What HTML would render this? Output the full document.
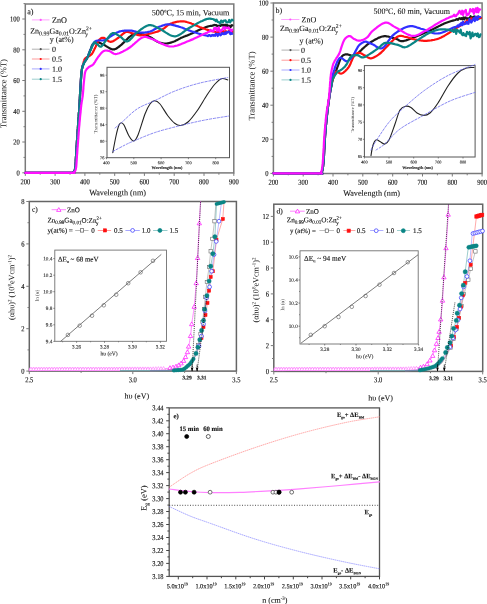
<!DOCTYPE html><html><head><meta charset="utf-8"><style>html,body{margin:0;padding:0;background:#fff;}svg{display:block;filter:blur(0.3px)}</style></head><body>
<svg width="487" height="604" viewBox="0 0 487 604" font-family="Liberation Serif">
<rect width="487" height="604" fill="#fff"/>
<rect x="25.3" y="4.0" width="208.5" height="168.9" fill="none" stroke="#7a7a7a" stroke-width="1.5"/>
<path d="M25.3,172.9 v3.0 M55.1,172.9 v3.0 M84.9,172.9 v3.0 M114.7,172.9 v3.0 M144.4,172.9 v3.0 M174.2,172.9 v3.0 M204.0,172.9 v3.0 M233.8,172.9 v3.0 " stroke="#7a7a7a" stroke-width="1.0"/>
<path d="M40.2,172.9 v1.8 M70.0,172.9 v1.8 M99.8,172.9 v1.8 M129.6,172.9 v1.8 M159.3,172.9 v1.8 M189.1,172.9 v1.8 M218.9,172.9 v1.8 " stroke="#7a7a7a" stroke-width="1.0"/>
<path d="M25.3,172.8 h-3.0 M25.3,142.0 h-3.0 M25.3,111.3 h-3.0 M25.3,80.5 h-3.0 M25.3,49.8 h-3.0 M25.3,19.0 h-3.0 " stroke="#7a7a7a" stroke-width="1.0"/>
<path d="M25.3,157.4 h-1.8 M25.3,126.7 h-1.8 M25.3,95.9 h-1.8 M25.3,65.1 h-1.8 M25.3,34.4 h-1.8 M25.3,3.6 h-1.8 " stroke="#7a7a7a" stroke-width="1.0"/>
<text x="25.3" y="184.2" font-size="7.60" text-anchor="middle" font-weight="normal" fill="#111" stroke="#111" stroke-width="0.13"  transform="translate(25.30 184.20) rotate(0.1) scale(0.860 1) translate(-25.30 -184.20)">200</text>
<text x="55.1" y="184.2" font-size="7.60" text-anchor="middle" font-weight="normal" fill="#111" stroke="#111" stroke-width="0.13"  transform="translate(55.09 184.20) rotate(0.1) scale(0.860 1) translate(-55.09 -184.20)">300</text>
<text x="84.9" y="184.2" font-size="7.60" text-anchor="middle" font-weight="normal" fill="#111" stroke="#111" stroke-width="0.13"  transform="translate(84.87 184.20) rotate(0.1) scale(0.860 1) translate(-84.87 -184.20)">400</text>
<text x="114.7" y="184.2" font-size="7.60" text-anchor="middle" font-weight="normal" fill="#111" stroke="#111" stroke-width="0.13"  transform="translate(114.66 184.20) rotate(0.1) scale(0.860 1) translate(-114.66 -184.20)">500</text>
<text x="144.4" y="184.2" font-size="7.60" text-anchor="middle" font-weight="normal" fill="#111" stroke="#111" stroke-width="0.13"  transform="translate(144.44 184.20) rotate(0.1) scale(0.860 1) translate(-144.44 -184.20)">600</text>
<text x="174.2" y="184.2" font-size="7.60" text-anchor="middle" font-weight="normal" fill="#111" stroke="#111" stroke-width="0.13"  transform="translate(174.23 184.20) rotate(0.1) scale(0.860 1) translate(-174.23 -184.20)">700</text>
<text x="204.0" y="184.2" font-size="7.60" text-anchor="middle" font-weight="normal" fill="#111" stroke="#111" stroke-width="0.13"  transform="translate(204.01 184.20) rotate(0.1) scale(0.860 1) translate(-204.01 -184.20)">800</text>
<text x="233.8" y="184.2" font-size="7.60" text-anchor="middle" font-weight="normal" fill="#111" stroke="#111" stroke-width="0.13"  transform="translate(233.80 184.20) rotate(0.1) scale(0.860 1) translate(-233.80 -184.20)">900</text>
<text x="19.8" y="175.4" font-size="7.60" text-anchor="end" font-weight="normal" fill="#111" stroke="#111" stroke-width="0.13"  transform="translate(19.80 175.40) rotate(0.1) scale(0.860 1) translate(-19.80 -175.40)">0</text>
<text x="19.8" y="144.6" font-size="7.60" text-anchor="end" font-weight="normal" fill="#111" stroke="#111" stroke-width="0.13"  transform="translate(19.80 144.64) rotate(0.1) scale(0.860 1) translate(-19.80 -144.64)">20</text>
<text x="19.8" y="113.9" font-size="7.60" text-anchor="end" font-weight="normal" fill="#111" stroke="#111" stroke-width="0.13"  transform="translate(19.80 113.88) rotate(0.1) scale(0.860 1) translate(-19.80 -113.88)">40</text>
<text x="19.8" y="83.1" font-size="7.60" text-anchor="end" font-weight="normal" fill="#111" stroke="#111" stroke-width="0.13"  transform="translate(19.80 83.12) rotate(0.1) scale(0.860 1) translate(-19.80 -83.12)">60</text>
<text x="19.8" y="52.4" font-size="7.60" text-anchor="end" font-weight="normal" fill="#111" stroke="#111" stroke-width="0.13"  transform="translate(19.80 52.36) rotate(0.1) scale(0.860 1) translate(-19.80 -52.36)">80</text>
<text x="19.8" y="21.6" font-size="7.60" text-anchor="end" font-weight="normal" fill="#111" stroke="#111" stroke-width="0.13"  transform="translate(19.80 21.60) rotate(0.1) scale(0.860 1) translate(-19.80 -21.60)">100</text>
<text x="117.6" y="195.3" font-size="8.20" text-anchor="middle" font-weight="normal" fill="#111" stroke="#111" stroke-width="0.08"  transform="rotate(0.1 117.6 195.3)">Wavelength (nm)</text>
<text transform="translate(6.2,93.6) rotate(-89.9)" font-size="8.6" text-anchor="middle" fill="#111">Transmittance (%T)</text>
<text x="27.2" y="14.2" font-size="8.20" text-anchor="start" font-weight="normal" fill="#111" stroke="#111" stroke-width="0.08"  transform="rotate(0.1 27.2 14.2)">a)</text>
<text x="151.8" y="15.2" font-size="8.15" text-anchor="start" font-weight="normal" fill="#111" stroke="#111" stroke-width="0.08"  transform="rotate(0.1 151.8 15.2)">500<tspan dy="-3" font-size="5">o</tspan><tspan dy="3">C, 15 min, Vacuum</tspan></text>
<path d="M25.3,172.8 L27.6,172.8 L30.6,172.8 L34.3,172.8 L38.4,172.8 L42.9,172.8 L47.5,172.8 L52.1,172.8 L56.5,172.8 L60.7,172.8 L64.5,172.8 L67.6,172.8 L70.0,172.8 L71.7,172.8 L72.9,172.8 L73.7,172.8 L74.1,172.8 L74.2,172.9 L74.1,172.9 L73.9,172.9 L73.5,172.8 L73.2,172.8 L72.9,172.7 L72.8,172.6 L72.9,172.4 L73.1,172.2 L73.3,172.1 L73.5,171.9 L73.8,171.7 L74.0,171.5 L74.2,171.3 L74.4,171.0 L74.5,170.6 L74.7,170.2 L74.9,169.6 L75.0,168.9 L75.2,168.0 L75.3,167.0 L75.5,165.9 L75.6,164.6 L75.7,163.2 L75.8,161.7 L75.8,160.2 L75.9,158.6 L76.0,156.9 L76.1,155.2 L76.2,153.5 L76.3,151.7 L76.4,150.0 L76.5,148.2 L76.6,146.4 L76.8,144.5 L76.9,142.5 L77.0,140.5 L77.2,138.5 L77.3,136.5 L77.5,134.4 L77.6,132.4 L77.7,130.4 L77.9,128.4 L78.0,126.5 L78.1,124.6 L78.3,122.7 L78.4,120.7 L78.5,118.8 L78.7,116.9 L78.8,115.0 L78.9,113.1 L79.1,111.3 L79.2,109.5 L79.3,107.8 L79.4,106.2 L79.5,104.6 L79.6,103.1 L79.7,101.8 L79.7,100.5 L79.8,99.3 L79.9,98.2 L79.9,97.1 L80.0,96.0 L80.0,94.9 L80.1,93.8 L80.1,92.6 L80.2,91.3 L80.3,90.0 L80.4,88.6 L80.5,87.0 L80.6,85.4 L80.7,83.7 L80.8,82.0 L80.9,80.3 L81.0,78.6 L81.1,77.0 L81.2,75.4 L81.3,73.9 L81.5,72.6 L81.6,71.4 L81.8,70.4 L81.9,69.4 L82.1,68.6 L82.2,67.8 L82.4,67.2 L82.6,66.5 L82.8,66.0 L83.0,65.4 L83.2,64.9 L83.4,64.4 L83.7,63.9 L83.9,63.3 L84.1,62.7 L84.4,62.2 L84.7,61.8 L85.0,61.3 L85.3,60.9 L85.6,60.5 L85.9,60.0 L86.2,59.6 L86.5,59.1 L86.8,58.6 L87.1,58.1 L87.4,57.5 L87.7,56.8 L88.0,56.1 L88.3,55.4 L88.6,54.6 L88.9,53.7 L89.2,52.9 L89.5,52.1 L89.8,51.3 L90.1,50.5 L90.4,49.8 L90.7,49.1 L90.9,48.5 L91.1,48.0 L91.3,47.5 L91.5,47.0 L91.6,46.6 L91.7,46.2 L91.9,45.8 L92.0,45.5 L92.2,45.2 L92.3,44.9 L92.5,44.6 L92.7,44.4 L93.0,44.1 L93.3,43.9 L93.6,43.6 L94.0,43.4 L94.4,43.2 L94.8,43.0 L95.2,42.8 L95.6,42.7 L96.0,42.6 L96.5,42.5 L96.9,42.4 L97.4,42.4 L97.8,42.4 L98.2,42.4 L98.7,42.5 L99.1,42.6 L99.5,42.8 L100.0,43.0 L100.4,43.1 L100.9,43.4 L101.4,43.6 L101.9,43.9 L102.4,44.1 L103.0,44.4 L103.6,44.7 L104.3,45.0 L105.0,45.4 L105.7,45.9 L106.5,46.4 L107.3,46.9 L108.2,47.4 L109.0,47.9 L109.8,48.4 L110.6,48.7 L111.4,49.1 L112.2,49.3 L112.9,49.4 L113.6,49.4 L114.1,49.4 L114.7,49.3 L115.2,49.1 L115.7,48.9 L116.3,48.6 L116.8,48.3 L117.3,47.9 L117.9,47.5 L118.5,47.0 L119.2,46.5 L120.0,45.9 L120.9,45.2 L121.8,44.4 L122.8,43.4 L123.9,42.4 L125.0,41.3 L126.2,40.1 L127.3,39.0 L128.4,37.9 L129.5,36.9 L130.6,36.1 L131.6,35.3 L132.5,34.7 L133.3,34.3 L134.1,33.9 L134.8,33.7 L135.5,33.5 L136.2,33.4 L136.9,33.4 L137.5,33.4 L138.1,33.5 L138.8,33.6 L139.4,33.7 L140.1,33.8 L140.8,33.9 L141.5,34.0 L142.3,34.2 L143.1,34.4 L143.8,34.6 L144.6,34.8 L145.4,35.1 L146.2,35.4 L147.0,35.7 L147.8,36.0 L148.5,36.3 L149.3,36.7 L150.0,37.0 L150.7,37.4 L151.4,37.8 L152.1,38.2 L152.8,38.7 L153.4,39.1 L154.1,39.6 L154.7,40.1 L155.4,40.5 L156.0,41.0 L156.7,41.3 L157.3,41.7 L158.0,42.0 L158.7,42.3 L159.3,42.5 L160.0,42.7 L160.7,42.9 L161.3,43.1 L162.0,43.2 L162.7,43.3 L163.3,43.4 L164.0,43.5 L164.7,43.5 L165.3,43.5 L166.0,43.5 L166.7,43.5 L167.3,43.4 L168.0,43.3 L168.7,43.2 L169.3,43.0 L170.0,42.8 L170.7,42.7 L171.3,42.4 L172.0,42.2 L172.7,42.0 L173.3,41.7 L174.0,41.5 L174.7,41.2 L175.3,40.9 L176.0,40.6 L176.7,40.3 L177.3,39.9 L178.0,39.6 L178.7,39.2 L179.3,38.8 L180.0,38.5 L180.7,38.1 L181.3,37.8 L182.0,37.5 L182.6,37.2 L183.2,37.0 L183.8,36.7 L184.3,36.5 L184.9,36.3 L185.4,36.1 L186.0,35.9 L186.6,35.7 L187.3,35.4 L188.1,35.1 L189.0,34.7 L190.0,34.3 L191.1,33.8 L192.4,33.2 L193.8,32.5 L195.3,31.8 L196.9,31.1 L198.5,30.3 L200.1,29.6 L201.7,28.8 L203.3,28.2 L204.8,27.6 L206.2,27.0 L207.5,26.6 L208.7,26.3 L209.9,26.0 L210.8,25.8 L211.7,25.8 L212.6,25.7 L213.5,25.2 L214.4,24.9 L215.3,25.3 L216.2,25.0 L217.1,26.1 L218.0,25.9 L218.9,25.7 L219.8,25.6 L220.7,25.9 L221.6,24.7 L222.5,25.4 L223.4,24.8 L224.3,26.7 L225.2,24.7 L226.1,26.6 L227.0,24.9 L227.9,26.4 L228.8,25.7 L229.7,25.9 L230.6,27.1 L231.5,25.2 L232.4,25.4" fill="none" stroke="#1a1a1a" stroke-width="2.2" stroke-linejoin="round" stroke-linecap="round"/>
<path d="M25.3,172.8 L27.6,172.8 L30.6,172.8 L34.3,172.8 L38.4,172.8 L42.9,172.8 L47.5,172.8 L52.1,172.8 L56.5,172.8 L60.7,172.8 L64.5,172.8 L67.6,172.8 L70.0,172.8 L71.7,172.8 L72.9,172.8 L73.7,172.8 L74.1,172.8 L74.2,172.9 L74.1,172.9 L73.9,172.9 L73.5,172.8 L73.2,172.8 L72.9,172.7 L72.8,172.6 L72.9,172.4 L73.1,172.2 L73.3,172.1 L73.5,171.9 L73.8,171.7 L74.0,171.5 L74.2,171.3 L74.4,171.0 L74.5,170.6 L74.7,170.2 L74.9,169.6 L75.0,168.9 L75.2,168.0 L75.3,167.0 L75.5,165.9 L75.6,164.6 L75.7,163.2 L75.8,161.7 L75.8,160.2 L75.9,158.6 L76.0,156.9 L76.1,155.2 L76.2,153.5 L76.3,151.7 L76.4,150.0 L76.5,148.2 L76.6,146.4 L76.8,144.5 L76.9,142.5 L77.0,140.5 L77.2,138.5 L77.3,136.5 L77.5,134.4 L77.6,132.4 L77.7,130.4 L77.9,128.4 L78.0,126.5 L78.1,124.6 L78.3,122.7 L78.4,120.7 L78.5,118.8 L78.7,116.9 L78.8,115.0 L78.9,113.1 L79.1,111.3 L79.2,109.5 L79.3,107.8 L79.4,106.2 L79.5,104.6 L79.6,103.1 L79.7,101.8 L79.7,100.5 L79.8,99.3 L79.9,98.2 L79.9,97.1 L80.0,96.0 L80.0,94.9 L80.1,93.8 L80.1,92.6 L80.2,91.3 L80.3,90.0 L80.4,88.6 L80.5,87.0 L80.6,85.4 L80.7,83.7 L80.8,82.0 L80.9,80.3 L81.0,78.6 L81.1,77.0 L81.2,75.4 L81.3,74.0 L81.5,72.6 L81.6,71.4 L81.7,70.3 L81.9,69.4 L82.0,68.5 L82.2,67.7 L82.4,67.0 L82.5,66.3 L82.7,65.7 L82.9,65.1 L83.0,64.6 L83.2,64.1 L83.4,63.5 L83.5,63.0 L83.6,62.5 L83.7,62.0 L83.8,61.6 L83.9,61.2 L84.0,60.8 L84.1,60.5 L84.2,60.1 L84.3,59.8 L84.5,59.5 L84.6,59.2 L84.9,58.9 L85.1,58.6 L85.4,58.3 L85.8,58.0 L86.1,57.7 L86.6,57.4 L87.0,57.2 L87.5,56.9 L88.0,56.7 L88.4,56.4 L88.9,56.2 L89.3,56.0 L89.7,55.7 L90.0,55.5 L90.3,55.3 L90.5,55.1 L90.8,54.9 L91.0,54.8 L91.2,54.6 L91.4,54.4 L91.5,54.3 L91.7,54.1 L91.9,53.9 L92.1,53.6 L92.3,53.3 L92.5,53.0 L92.7,52.6 L93.0,52.2 L93.2,51.8 L93.4,51.3 L93.7,50.8 L93.9,50.3 L94.2,49.7 L94.4,49.2 L94.7,48.6 L95.0,48.1 L95.2,47.5 L95.5,47.0 L95.8,46.4 L96.0,45.8 L96.3,45.2 L96.6,44.6 L96.9,44.0 L97.1,43.3 L97.4,42.7 L97.7,42.1 L98.0,41.5 L98.3,41.0 L98.7,40.5 L99.0,40.1 L99.3,39.7 L99.7,39.4 L100.0,39.1 L100.4,38.8 L100.7,38.5 L101.1,38.3 L101.5,38.1 L101.8,37.9 L102.3,37.8 L102.7,37.8 L103.1,37.8 L103.6,37.8 L104.1,37.9 L104.6,38.2 L105.2,38.5 L105.7,39.0 L106.3,39.4 L106.9,39.9 L107.5,40.4 L108.1,40.8 L108.8,41.2 L109.4,41.5 L110.0,41.7 L110.6,41.8 L111.2,41.8 L111.8,41.6 L112.4,41.4 L113.0,41.2 L113.6,40.9 L114.2,40.5 L114.9,40.1 L115.5,39.7 L116.1,39.3 L116.7,38.9 L117.4,38.4 L118.0,38.0 L118.6,37.6 L119.3,37.0 L120.0,36.5 L120.7,35.9 L121.3,35.3 L122.0,34.7 L122.7,34.1 L123.4,33.5 L124.1,33.0 L124.7,32.6 L125.4,32.2 L126.0,32.0 L126.6,31.9 L127.2,31.8 L127.8,31.8 L128.3,31.9 L128.9,32.1 L129.4,32.3 L130.0,32.5 L130.6,32.7 L131.1,32.9 L131.7,33.2 L132.3,33.3 L133.0,33.5 L133.7,33.7 L134.3,33.8 L134.9,34.1 L135.5,34.3 L136.2,34.5 L136.8,34.7 L137.5,34.9 L138.3,35.1 L139.1,35.2 L140.0,35.3 L140.9,35.3 L142.0,35.2 L143.2,35.0 L144.6,34.8 L146.1,34.5 L147.6,34.2 L149.3,33.8 L150.9,33.4 L152.6,33.0 L154.3,32.5 L155.9,32.0 L157.4,31.6 L158.8,31.1 L160.0,30.6 L161.1,30.1 L162.1,29.6 L163.0,29.0 L163.9,28.4 L164.7,27.8 L165.4,27.2 L166.2,26.6 L166.9,26.0 L167.6,25.4 L168.4,24.9 L169.2,24.4 L170.0,24.0 L170.9,23.6 L171.8,23.3 L172.7,22.9 L173.7,22.6 L174.6,22.4 L175.6,22.1 L176.5,21.9 L177.4,21.7 L178.4,21.6 L179.3,21.5 L180.2,21.4 L181.0,21.3 L181.8,21.3 L182.6,21.3 L183.3,21.3 L184.0,21.4 L184.7,21.5 L185.4,21.7 L186.1,21.8 L186.8,22.0 L187.6,22.2 L188.3,22.5 L189.1,22.7 L190.0,23.0 L190.9,23.3 L191.8,23.7 L192.8,24.0 L193.8,24.5 L194.8,24.9 L195.8,25.4 L196.9,25.8 L197.9,26.3 L199.0,26.7 L200.1,27.2 L201.2,27.6 L202.3,28.0 L203.4,28.4 L204.6,28.8 L205.7,29.2 L206.9,29.6 L208.1,30.0 L209.3,30.4 L210.5,30.7 L211.7,31.1 L212.9,31.4 L214.2,31.6 L215.1,31.8 L216.0,32.0 L216.9,32.1 L217.8,32.3 L218.7,31.8 L219.6,31.8 L220.5,31.6 L221.4,31.6 L222.3,32.4 L223.2,31.2 L224.1,32.0 L225.0,31.2 L225.9,31.3 L226.8,31.5 L227.7,32.2 L228.6,31.7 L229.5,30.4 L230.4,30.8 L231.3,30.5 L232.2,31.8" fill="none" stroke="#ff1010" stroke-width="2.2" stroke-linejoin="round" stroke-linecap="round"/>
<path d="M25.3,172.8 L27.6,172.8 L30.6,172.8 L34.3,172.8 L38.4,172.8 L42.9,172.8 L47.5,172.8 L52.1,172.8 L56.5,172.8 L60.7,172.8 L64.5,172.8 L67.6,172.8 L70.0,172.8 L71.7,172.8 L72.9,172.8 L73.7,172.8 L74.1,172.8 L74.2,172.9 L74.1,172.9 L73.9,172.9 L73.5,172.8 L73.2,172.8 L72.9,172.7 L72.8,172.6 L72.9,172.4 L73.1,172.2 L73.3,172.1 L73.5,171.9 L73.8,171.7 L74.0,171.5 L74.2,171.3 L74.4,171.0 L74.5,170.6 L74.7,170.2 L74.9,169.6 L75.0,168.9 L75.2,168.0 L75.3,167.0 L75.5,165.9 L75.6,164.6 L75.7,163.2 L75.8,161.7 L75.8,160.2 L75.9,158.6 L76.0,156.9 L76.1,155.2 L76.2,153.5 L76.3,151.7 L76.4,150.0 L76.5,148.2 L76.6,146.4 L76.8,144.5 L76.9,142.5 L77.0,140.5 L77.2,138.5 L77.3,136.5 L77.5,134.4 L77.6,132.4 L77.7,130.4 L77.9,128.4 L78.0,126.5 L78.1,124.6 L78.3,122.7 L78.4,120.7 L78.5,118.8 L78.7,116.9 L78.8,115.0 L78.9,113.1 L79.1,111.3 L79.2,109.5 L79.3,107.8 L79.4,106.2 L79.5,104.6 L79.6,103.1 L79.7,101.8 L79.7,100.5 L79.8,99.3 L79.9,98.2 L79.9,97.1 L80.0,96.0 L80.0,94.9 L80.1,93.8 L80.1,92.6 L80.2,91.3 L80.3,90.0 L80.4,88.6 L80.5,87.0 L80.6,85.4 L80.7,83.7 L80.8,82.0 L80.9,80.3 L81.0,78.6 L81.1,77.0 L81.2,75.4 L81.3,73.9 L81.5,72.6 L81.6,71.4 L81.8,70.4 L81.9,69.4 L82.1,68.6 L82.2,67.8 L82.4,67.2 L82.6,66.5 L82.8,66.0 L83.0,65.4 L83.2,64.9 L83.4,64.4 L83.7,63.9 L83.9,63.3 L84.1,62.7 L84.4,62.2 L84.7,61.8 L85.0,61.3 L85.3,60.9 L85.6,60.4 L85.9,60.0 L86.2,59.5 L86.5,59.1 L86.8,58.6 L87.1,58.1 L87.4,57.5 L87.7,56.9 L88.0,56.2 L88.2,55.5 L88.5,54.8 L88.8,54.1 L89.1,53.4 L89.4,52.6 L89.7,51.9 L89.9,51.1 L90.3,50.4 L90.6,49.7 L90.9,49.0 L91.2,48.3 L91.5,47.6 L91.9,46.8 L92.2,46.1 L92.5,45.4 L92.8,44.6 L93.2,43.9 L93.6,43.3 L94.0,42.7 L94.4,42.1 L94.9,41.6 L95.5,41.2 L96.1,40.9 L96.8,40.7 L97.5,40.5 L98.3,40.5 L99.1,40.4 L100.0,40.5 L100.8,40.5 L101.7,40.5 L102.5,40.5 L103.3,40.4 L104.1,40.3 L104.8,40.1 L105.5,39.8 L106.1,39.5 L106.7,39.2 L107.3,38.8 L107.9,38.4 L108.5,38.0 L109.0,37.6 L109.6,37.1 L110.2,36.7 L110.8,36.3 L111.4,35.9 L112.0,35.5 L112.6,35.1 L113.3,34.7 L113.9,34.4 L114.5,34.0 L115.1,33.6 L115.8,33.2 L116.4,32.8 L117.1,32.5 L117.8,32.2 L118.5,31.9 L119.2,31.6 L120.0,31.4 L120.8,31.2 L121.7,31.0 L122.6,30.9 L123.5,30.8 L124.4,30.7 L125.4,30.6 L126.3,30.6 L127.3,30.5 L128.2,30.5 L129.2,30.5 L130.0,30.6 L130.9,30.6 L131.7,30.7 L132.5,30.8 L133.3,31.0 L134.0,31.2 L134.8,31.4 L135.5,31.6 L136.2,31.8 L137.0,32.1 L137.7,32.3 L138.5,32.4 L139.2,32.5 L140.0,32.6 L140.8,32.6 L141.6,32.6 L142.4,32.6 L143.3,32.6 L144.1,32.6 L144.9,32.5 L145.8,32.4 L146.6,32.3 L147.5,32.1 L148.3,31.9 L149.2,31.7 L150.0,31.5 L150.8,31.2 L151.7,30.9 L152.5,30.5 L153.4,30.0 L154.2,29.5 L155.1,29.1 L155.9,28.6 L156.8,28.1 L157.6,27.6 L158.4,27.2 L159.2,26.8 L160.0,26.5 L160.8,26.2 L161.5,25.9 L162.2,25.7 L162.9,25.4 L163.6,25.2 L164.3,25.0 L165.0,24.8 L165.7,24.6 L166.4,24.5 L167.1,24.4 L167.9,24.4 L168.7,24.4 L169.6,24.4 L170.4,24.5 L171.4,24.7 L172.3,24.9 L173.3,25.1 L174.3,25.3 L175.3,25.6 L176.2,25.9 L177.2,26.2 L178.2,26.4 L179.1,26.7 L180.0,27.0 L180.9,27.3 L181.7,27.5 L182.5,27.8 L183.2,28.1 L184.0,28.4 L184.7,28.7 L185.5,29.0 L186.3,29.4 L187.2,29.7 L188.0,30.0 L189.0,30.4 L190.0,30.7 L191.1,31.1 L192.3,31.5 L193.6,31.9 L194.9,32.4 L196.2,32.8 L197.6,33.3 L199.0,33.7 L200.4,34.1 L201.7,34.5 L203.0,34.8 L204.2,35.1 L205.1,35.2 L206.0,35.5 L206.9,35.6 L207.8,36.1 L208.7,35.2 L209.6,35.1 L210.5,36.1 L211.4,35.9 L212.3,34.8 L213.2,35.8 L214.1,34.8 L215.0,35.9 L215.9,33.7 L216.8,33.9 L217.7,36.0 L218.6,34.1 L219.5,33.7 L220.4,35.3 L221.3,34.6 L222.2,32.9 L223.1,34.0 L224.0,34.2 L224.9,32.5 L225.8,33.9 L226.7,32.1 L227.6,32.6 L228.5,31.6 L229.4,31.9 L230.3,34.2 L231.2,32.2 L232.1,33.9" fill="none" stroke="#3030ff" stroke-width="2.2" stroke-linejoin="round" stroke-linecap="round"/>
<path d="M25.3,172.8 L27.6,172.8 L30.6,172.8 L34.3,172.8 L38.4,172.8 L42.9,172.8 L47.5,172.8 L52.1,172.8 L56.5,172.8 L60.7,172.8 L64.5,172.8 L67.6,172.8 L70.0,172.8 L71.7,172.8 L72.9,172.8 L73.7,172.8 L74.1,172.8 L74.2,172.9 L74.1,172.9 L73.9,172.9 L73.5,172.8 L73.2,172.8 L72.9,172.7 L72.8,172.6 L72.9,172.4 L73.1,172.2 L73.3,172.1 L73.5,171.9 L73.8,171.7 L74.0,171.5 L74.2,171.3 L74.4,171.0 L74.5,170.6 L74.7,170.2 L74.9,169.6 L75.0,168.9 L75.2,168.0 L75.3,167.0 L75.5,165.9 L75.6,164.6 L75.7,163.2 L75.8,161.7 L75.8,160.2 L75.9,158.6 L76.0,156.9 L76.1,155.2 L76.2,153.5 L76.3,151.7 L76.4,150.0 L76.5,148.2 L76.6,146.4 L76.8,144.5 L76.9,142.5 L77.0,140.5 L77.2,138.5 L77.3,136.5 L77.5,134.4 L77.6,132.4 L77.7,130.4 L77.9,128.4 L78.0,126.5 L78.1,124.6 L78.3,122.7 L78.4,120.7 L78.5,118.8 L78.7,116.9 L78.8,115.0 L78.9,113.1 L79.1,111.3 L79.2,109.5 L79.3,107.8 L79.4,106.2 L79.5,104.6 L79.6,103.1 L79.7,101.8 L79.7,100.5 L79.8,99.3 L79.9,98.2 L79.9,97.1 L80.0,96.0 L80.0,94.9 L80.1,93.8 L80.1,92.6 L80.2,91.3 L80.3,90.0 L80.4,88.6 L80.5,87.0 L80.6,85.4 L80.7,83.7 L80.8,82.0 L80.9,80.3 L81.0,78.6 L81.1,77.0 L81.2,75.4 L81.3,73.9 L81.5,72.6 L81.6,71.4 L81.8,70.4 L81.9,69.4 L82.1,68.6 L82.2,67.8 L82.4,67.2 L82.6,66.5 L82.8,66.0 L83.0,65.4 L83.2,64.9 L83.4,64.4 L83.7,63.9 L83.9,63.3 L84.1,62.7 L84.4,62.2 L84.7,61.7 L85.0,61.3 L85.3,60.8 L85.6,60.4 L85.9,60.0 L86.2,59.5 L86.5,59.1 L86.8,58.6 L87.1,58.1 L87.4,57.5 L87.7,56.9 L88.0,56.3 L88.3,55.6 L88.6,54.9 L88.9,54.2 L89.2,53.5 L89.4,52.8 L89.7,52.1 L90.0,51.4 L90.3,50.7 L90.6,50.0 L90.9,49.4 L91.2,48.7 L91.5,48.1 L91.8,47.4 L92.1,46.6 L92.4,45.9 L92.7,45.3 L93.0,44.6 L93.3,44.0 L93.6,43.5 L93.8,43.0 L94.1,42.7 L94.4,42.4 L94.7,42.3 L94.9,42.2 L95.2,42.3 L95.4,42.4 L95.7,42.6 L95.9,42.9 L96.2,43.2 L96.4,43.5 L96.7,43.8 L96.9,44.1 L97.2,44.3 L97.5,44.5 L97.8,44.7 L98.1,44.9 L98.4,45.2 L98.6,45.5 L98.9,45.8 L99.2,46.1 L99.5,46.3 L99.9,46.5 L100.2,46.7 L100.5,46.7 L100.9,46.7 L101.3,46.5 L101.7,46.2 L102.1,45.8 L102.6,45.3 L103.1,44.6 L103.5,44.0 L104.0,43.2 L104.5,42.5 L105.0,41.7 L105.5,41.0 L106.0,40.3 L106.5,39.6 L107.0,39.0 L107.5,38.4 L108.0,37.8 L108.4,37.2 L108.9,36.6 L109.4,36.0 L109.9,35.4 L110.3,34.8 L110.8,34.3 L111.3,33.9 L111.8,33.5 L112.4,33.3 L112.9,33.1 L113.4,33.1 L114.0,33.1 L114.6,33.3 L115.2,33.5 L115.7,33.8 L116.3,34.1 L116.9,34.5 L117.6,34.9 L118.2,35.3 L118.8,35.7 L119.4,36.1 L120.0,36.5 L120.6,36.9 L121.2,37.4 L121.8,37.9 L122.4,38.5 L123.0,39.1 L123.7,39.7 L124.3,40.2 L124.9,40.7 L125.6,41.0 L126.2,41.3 L126.9,41.4 L127.6,41.3 L128.3,41.0 L129.0,40.6 L129.8,40.0 L130.5,39.3 L131.3,38.5 L132.0,37.7 L132.8,36.7 L133.6,35.8 L134.4,34.9 L135.3,34.0 L136.1,33.2 L137.0,32.5 L137.9,31.8 L138.9,31.1 L139.8,30.3 L140.8,29.5 L141.9,28.8 L142.9,28.1 L143.9,27.4 L145.0,26.8 L146.0,26.2 L147.0,25.8 L148.0,25.4 L149.0,25.2 L149.9,25.1 L150.8,25.2 L151.7,25.3 L152.6,25.5 L153.5,25.8 L154.3,26.2 L155.2,26.6 L156.1,27.1 L157.0,27.5 L158.0,28.0 L158.9,28.5 L160.0,29.0 L161.1,29.5 L162.3,30.2 L163.4,31.0 L164.7,31.8 L165.9,32.6 L167.2,33.4 L168.5,34.2 L169.8,34.9 L171.1,35.5 L172.4,36.0 L173.6,36.2 L174.9,36.3 L176.1,36.1 L177.4,35.8 L178.6,35.2 L179.8,34.6 L181.0,33.8 L182.3,32.9 L183.5,32.0 L184.8,31.0 L186.0,30.1 L187.3,29.1 L188.6,28.3 L190.0,27.5 L191.4,26.7 L192.9,25.9 L194.4,25.1 L195.9,24.2 L197.5,23.3 L199.1,22.4 L200.6,21.6 L202.2,20.9 L203.7,20.2 L205.1,19.6 L206.5,19.1 L207.8,18.8 L209.0,18.6 L210.1,18.6 L211.2,18.8 L212.1,19.0 L213.0,19.0 L213.9,19.8 L214.8,19.5 L215.7,21.1 L216.6,19.7 L217.5,21.9 L218.4,21.8 L219.3,22.6 L220.2,23.3 L221.1,20.6 L222.0,21.0 L222.9,22.3 L223.8,20.7 L224.7,20.6 L225.6,20.4 L226.5,22.5 L227.4,22.5 L228.3,22.1 L229.2,19.9 L230.1,22.4 L231.0,20.8 L231.9,19.6 L232.8,20.4" fill="none" stroke="#0a8585" stroke-width="2.2" stroke-linejoin="round" stroke-linecap="round"/>
<path d="M25.3,172.8 L27.6,172.8 L30.6,172.8 L34.3,172.8 L38.4,172.8 L42.8,172.8 L47.4,172.8 L52.0,172.8 L56.5,172.8 L60.7,172.8 L64.4,172.8 L67.6,172.8 L70.0,172.8 L71.7,172.8 L73.0,172.8 L73.8,172.8 L74.3,172.8 L74.4,172.9 L74.4,172.9 L74.2,172.9 L73.9,172.8 L73.7,172.8 L73.5,172.7 L73.4,172.6 L73.5,172.4 L73.7,172.2 L74.0,172.1 L74.2,171.9 L74.4,171.7 L74.7,171.5 L74.9,171.3 L75.1,171.0 L75.3,170.6 L75.5,170.2 L75.7,169.6 L75.8,168.9 L76.0,168.0 L76.2,167.0 L76.3,165.9 L76.4,164.6 L76.5,163.2 L76.6,161.7 L76.7,160.2 L76.8,158.6 L76.9,156.9 L77.0,155.2 L77.2,153.5 L77.3,151.7 L77.4,150.0 L77.5,148.2 L77.7,146.4 L77.8,144.4 L78.0,142.5 L78.1,140.4 L78.3,138.4 L78.4,136.4 L78.6,134.3 L78.7,132.3 L78.9,130.3 L79.0,128.4 L79.2,126.5 L79.4,124.7 L79.5,122.8 L79.7,120.9 L79.9,119.1 L80.0,117.3 L80.2,115.5 L80.4,113.7 L80.6,112.0 L80.7,110.4 L80.9,108.8 L81.0,107.4 L81.2,106.0 L81.3,104.8 L81.5,103.6 L81.6,102.6 L81.8,101.7 L81.9,100.8 L82.1,100.0 L82.2,99.2 L82.3,98.5 L82.4,97.7 L82.6,96.8 L82.7,96.0 L82.8,95.0 L82.9,94.0 L83.0,92.9 L83.1,91.8 L83.2,90.7 L83.3,89.6 L83.4,88.5 L83.4,87.3 L83.5,86.2 L83.6,85.1 L83.7,84.0 L83.8,83.0 L83.9,82.0 L84.0,81.0 L84.1,80.1 L84.2,79.1 L84.3,78.2 L84.4,77.3 L84.5,76.4 L84.6,75.5 L84.7,74.7 L84.8,73.9 L85.0,73.1 L85.1,72.4 L85.3,71.8 L85.5,71.2 L85.7,70.7 L86.0,70.2 L86.2,69.8 L86.5,69.4 L86.8,69.1 L87.0,68.8 L87.3,68.5 L87.6,68.2 L88.0,67.9 L88.3,67.6 L88.6,67.3 L88.9,67.0 L89.3,66.8 L89.7,66.6 L90.0,66.4 L90.4,66.2 L90.8,66.0 L91.2,65.8 L91.6,65.6 L92.0,65.4 L92.4,65.1 L92.8,64.8 L93.2,64.4 L93.6,64.0 L94.0,63.5 L94.3,62.9 L94.7,62.4 L95.1,61.8 L95.4,61.2 L95.8,60.5 L96.2,59.9 L96.6,59.3 L97.0,58.7 L97.4,58.1 L97.8,57.5 L98.2,56.9 L98.7,56.3 L99.2,55.7 L99.6,55.1 L100.1,54.5 L100.6,53.9 L101.1,53.3 L101.6,52.7 L102.1,52.2 L102.6,51.8 L103.1,51.4 L103.6,51.1 L104.1,50.9 L104.6,50.7 L105.0,50.6 L105.5,50.5 L106.0,50.5 L106.4,50.5 L106.9,50.6 L107.4,50.6 L107.9,50.7 L108.4,50.9 L108.9,51.0 L109.4,51.1 L109.9,51.3 L110.4,51.5 L110.9,51.8 L111.4,52.2 L111.9,52.6 L112.5,52.9 L113.0,53.3 L113.6,53.6 L114.2,53.8 L114.9,54.0 L115.6,54.1 L116.4,54.0 L117.3,53.8 L118.2,53.5 L119.2,53.2 L120.3,52.8 L121.3,52.3 L122.5,51.7 L123.6,51.1 L124.8,50.5 L125.9,49.9 L127.1,49.2 L128.2,48.5 L129.3,47.8 L130.4,47.0 L131.5,46.2 L132.6,45.2 L133.8,44.2 L134.9,43.2 L136.1,42.2 L137.2,41.2 L138.3,40.2 L139.4,39.3 L140.4,38.6 L141.4,38.0 L142.4,37.5 L143.3,37.2 L144.1,37.0 L144.8,36.9 L145.5,36.9 L146.2,37.0 L146.8,37.1 L147.5,37.4 L148.2,37.6 L149.0,37.9 L149.9,38.3 L150.9,38.6 L152.0,39.0 L153.2,39.5 L154.6,40.1 L156.0,40.8 L157.6,41.6 L159.2,42.4 L160.8,43.2 L162.5,44.0 L164.2,44.8 L165.9,45.4 L167.5,46.0 L169.2,46.3 L170.8,46.5 L172.4,46.5 L174.0,46.3 L175.7,45.9 L177.4,45.5 L179.1,44.9 L180.7,44.3 L182.4,43.6 L184.0,42.9 L185.6,42.2 L187.1,41.6 L188.6,41.0 L190.0,40.4 L191.3,39.9 L192.6,39.4 L193.8,38.8 L194.9,38.3 L196.0,37.8 L197.1,37.3 L198.1,36.7 L199.2,36.2 L200.2,35.7 L201.2,35.2 L202.2,34.8 L203.3,34.3 L204.3,33.8 L205.2,33.4 L206.1,33.0 L207.0,33.1 L207.9,32.1 L208.8,31.8 L209.7,31.6 L210.6,30.0 L211.5,30.7 L212.4,30.9 L213.3,31.4 L214.2,28.1 L215.1,28.8 L216.0,27.8 L216.9,30.8 L217.8,30.2 L218.7,27.3 L219.6,31.4 L220.5,31.3 L221.4,29.9 L222.3,29.8 L223.2,27.8 L224.1,27.1 L225.0,29.4 L225.9,27.4 L226.8,28.0 L227.7,28.3 L228.6,27.4 L229.5,29.3 L230.4,29.3 L231.3,31.1 L232.2,29.7" fill="none" stroke="#ff10ff" stroke-width="2.2" stroke-linejoin="round" stroke-linecap="round"/>
<path d="M31.9,19.9H49.5" stroke="#ff99ff" stroke-width="0.9"/>
<circle cx="40.7" cy="19.9" r="1.1" fill="#ff55ff"/>
<text x="51.9" y="22.7" font-size="8.20" text-anchor="start" font-weight="normal" fill="#111" stroke="#111" stroke-width="0.08"  transform="rotate(0.1 51.9 22.7)">ZnO</text>
<text x="30.2" y="33.6" font-size="8.00" text-anchor="start" font-weight="normal" fill="#111" stroke="#111" stroke-width="0.08"  transform="rotate(0.1 30.2 33.6)">Zn<tspan font-size="5.9" dy="1.8">0.99</tspan><tspan dy="-1.8">Ga</tspan><tspan font-size="5.9" dy="1.8">0.01</tspan><tspan dy="-1.8">O:Zn</tspan><tspan font-size="5.6" dy="-3.4">2+</tspan><tspan font-size="5.6" dx="-6.5" dy="5.8">y</tspan></text>
<text x="49.8" y="41.9" font-size="8.00" text-anchor="start" font-weight="normal" fill="#111" stroke="#111" stroke-width="0.08"  transform="rotate(0.1 49.8 41.9)">y (at%)</text>
<path d="M31.9,49.2H49.5" stroke="#a8a8a8" stroke-width="0.9"/>
<circle cx="40.7" cy="49.2" r="1.1" fill="#555"/>
<text x="51.9" y="52.0" font-size="8.00" text-anchor="start" font-weight="normal" fill="#111" stroke="#111" stroke-width="0.08"  transform="rotate(0.1 51.9 52.0)">0</text>
<path d="M31.9,59.0H49.5" stroke="#ff9090" stroke-width="0.9"/>
<circle cx="40.7" cy="59.0" r="1.1" fill="#ff1010"/>
<text x="51.9" y="61.8" font-size="8.00" text-anchor="start" font-weight="normal" fill="#111" stroke="#111" stroke-width="0.08"  transform="rotate(0.1 51.9 61.8)">0.5</text>
<path d="M31.9,68.9H49.5" stroke="#a0a0ff" stroke-width="0.9"/>
<circle cx="40.7" cy="68.9" r="1.1" fill="#3030ff"/>
<text x="51.9" y="71.7" font-size="8.00" text-anchor="start" font-weight="normal" fill="#111" stroke="#111" stroke-width="0.08"  transform="rotate(0.1 51.9 71.7)">1.0</text>
<path d="M31.9,79.2H49.5" stroke="#90c8c8" stroke-width="0.9"/>
<circle cx="40.7" cy="79.2" r="1.1" fill="#0a8585"/>
<text x="51.9" y="82.0" font-size="8.00" text-anchor="start" font-weight="normal" fill="#111" stroke="#111" stroke-width="0.08"  transform="rotate(0.1 51.9 82.0)">1.5</text>
<rect x="107.0" y="67.3" width="122.5" height="90.4" fill="#fff" stroke="#555" stroke-width="1"/>
<path d="M106.5,157.7 v1.5 M133.8,157.7 v1.5 M161.1,157.7 v1.5 M188.4,157.7 v1.5 M215.7,157.7 v1.5 " stroke="#555" stroke-width="0.7"/>
<path d="M107.0,157.7 h-1.5 M107.0,141.2 h-1.5 M107.0,124.7 h-1.5 M107.0,108.2 h-1.5 M107.0,91.7 h-1.5 M107.0,75.2 h-1.5 " stroke="#555" stroke-width="0.7"/>
<text x="106.5" y="164.3" font-size="4.30" text-anchor="middle" font-weight="normal" fill="#333" stroke="#333" stroke-width="0.13"  transform="rotate(0.1 106.5 164.3)">400</text>
<text x="133.8" y="164.3" font-size="4.30" text-anchor="middle" font-weight="normal" fill="#333" stroke="#333" stroke-width="0.13"  transform="rotate(0.1 133.8 164.3)">500</text>
<text x="161.1" y="164.3" font-size="4.30" text-anchor="middle" font-weight="normal" fill="#333" stroke="#333" stroke-width="0.13"  transform="rotate(0.1 161.1 164.3)">600</text>
<text x="188.4" y="164.3" font-size="4.30" text-anchor="middle" font-weight="normal" fill="#333" stroke="#333" stroke-width="0.13"  transform="rotate(0.1 188.4 164.3)">700</text>
<text x="215.7" y="164.3" font-size="4.30" text-anchor="middle" font-weight="normal" fill="#333" stroke="#333" stroke-width="0.13"  transform="rotate(0.1 215.7 164.3)">800</text>
<text x="104.3" y="159.2" font-size="4.30" text-anchor="end" font-weight="normal" fill="#333" stroke="#333" stroke-width="0.13"  transform="rotate(0.1 104.3 159.2)">76</text>
<text x="104.3" y="142.7" font-size="4.30" text-anchor="end" font-weight="normal" fill="#333" stroke="#333" stroke-width="0.13"  transform="rotate(0.1 104.3 142.7)">80</text>
<text x="104.3" y="126.2" font-size="4.30" text-anchor="end" font-weight="normal" fill="#333" stroke="#333" stroke-width="0.13"  transform="rotate(0.1 104.3 126.2)">84</text>
<text x="104.3" y="109.7" font-size="4.30" text-anchor="end" font-weight="normal" fill="#333" stroke="#333" stroke-width="0.13"  transform="rotate(0.1 104.3 109.7)">88</text>
<text x="104.3" y="93.2" font-size="4.30" text-anchor="end" font-weight="normal" fill="#333" stroke="#333" stroke-width="0.13"  transform="rotate(0.1 104.3 93.2)">92</text>
<text x="104.3" y="76.7" font-size="4.30" text-anchor="end" font-weight="normal" fill="#333" stroke="#333" stroke-width="0.13"  transform="rotate(0.1 104.3 76.7)">96</text>
<text x="166.9" y="169.0" font-size="4.20" text-anchor="middle" font-weight="bold" fill="#333" stroke="#333" stroke-width="0.13"  transform="rotate(0.1 166.9 169.0)">Wavelength (nm)</text>
<text transform="translate(97.3,114) rotate(-89.9)" font-size="4.8" text-anchor="middle" fill="#333">Transmittance (%T)</text>
<path d="M112.8,152.6 C113.3,149.8 115.0,140.6 116.0,136.0 C117.0,131.4 118.1,127.2 119.0,125.0 C119.9,122.8 120.6,122.7 121.4,122.7 C122.2,122.7 122.7,122.8 124.0,125.0 C125.3,127.2 127.4,133.3 129.0,136.0 C130.6,138.7 132.3,141.2 133.8,141.0 C135.3,140.8 136.1,139.5 138.0,135.0 C139.9,130.5 143.0,119.2 145.0,114.0 C147.0,108.8 148.4,106.2 150.0,104.0 C151.6,101.8 152.8,100.8 154.5,100.8 C156.2,100.8 157.8,101.5 160.0,104.0 C162.2,106.5 165.5,112.8 168.0,116.0 C170.5,119.2 172.9,121.9 175.0,123.5 C177.1,125.1 178.5,125.8 180.7,125.5 C182.9,125.2 185.3,124.4 188.0,122.0 C190.7,119.6 193.8,115.5 197.0,111.0 C200.2,106.5 204.0,99.5 207.0,95.0 C210.0,90.5 212.6,86.7 215.0,84.0 C217.4,81.3 219.4,79.4 221.5,78.7 C223.6,78.0 226.8,79.8 227.8,80.0" fill="none" stroke="#222" stroke-width="1.1" stroke-linejoin="round" stroke-linecap="round" />
<path d="M115.0,128.0 C116.1,127.1 117.7,125.9 121.4,122.7 C125.1,119.5 131.5,112.7 137.0,109.0 C142.5,105.3 148.2,103.8 154.5,100.8 C160.8,97.8 167.4,94.0 175.0,91.0 C182.6,88.0 191.2,85.2 200.0,83.0 C208.8,80.8 223.2,78.4 227.8,77.5" fill="none" stroke="#6a6aee" stroke-width="0.8" stroke-linejoin="round" stroke-linecap="round" stroke-dasharray="2.2,1.6"/>
<path d="M112.8,151.5 C114.8,150.4 121.5,146.8 125.0,145.0 C128.5,143.2 128.8,143.1 133.8,141.0 C138.8,138.9 147.2,135.1 155.0,132.5 C162.8,129.9 172.4,127.6 180.7,125.5 C189.0,123.4 196.9,121.6 205.0,120.0 C213.1,118.4 225.0,116.7 229.0,116.0" fill="none" stroke="#6a6aee" stroke-width="0.8" stroke-linejoin="round" stroke-linecap="round" stroke-dasharray="2.2,1.6"/>
<rect x="273.4" y="3.0" width="208.7" height="170.5" fill="none" stroke="#7a7a7a" stroke-width="1.5"/>
<path d="M273.4,173.5 v3.0 M303.2,173.5 v3.0 M333.0,173.5 v3.0 M362.8,173.5 v3.0 M392.7,173.5 v3.0 M422.5,173.5 v3.0 M452.3,173.5 v3.0 M482.1,173.5 v3.0 " stroke="#7a7a7a" stroke-width="1.0"/>
<path d="M288.3,173.5 v1.8 M318.1,173.5 v1.8 M347.9,173.5 v1.8 M377.8,173.5 v1.8 M407.6,173.5 v1.8 M437.4,173.5 v1.8 M467.2,173.5 v1.8 " stroke="#7a7a7a" stroke-width="1.0"/>
<path d="M273.4,173.4 h-3.0 M273.4,139.3 h-3.0 M273.4,105.2 h-3.0 M273.4,71.2 h-3.0 M273.4,37.1 h-3.0 M273.4,3.0 h-3.0 " stroke="#7a7a7a" stroke-width="1.0"/>
<path d="M273.4,156.4 h-1.8 M273.4,122.3 h-1.8 M273.4,88.2 h-1.8 M273.4,54.1 h-1.8 M273.4,20.0 h-1.8 " stroke="#7a7a7a" stroke-width="1.0"/>
<text x="273.4" y="184.8" font-size="7.60" text-anchor="middle" font-weight="normal" fill="#111" stroke="#111" stroke-width="0.13"  transform="translate(273.40 184.80) rotate(0.1) scale(0.860 1) translate(-273.40 -184.80)">200</text>
<text x="303.2" y="184.8" font-size="7.60" text-anchor="middle" font-weight="normal" fill="#111" stroke="#111" stroke-width="0.13"  transform="translate(303.21 184.80) rotate(0.1) scale(0.860 1) translate(-303.21 -184.80)">300</text>
<text x="333.0" y="184.8" font-size="7.60" text-anchor="middle" font-weight="normal" fill="#111" stroke="#111" stroke-width="0.13"  transform="translate(333.03 184.80) rotate(0.1) scale(0.860 1) translate(-333.03 -184.80)">400</text>
<text x="362.8" y="184.8" font-size="7.60" text-anchor="middle" font-weight="normal" fill="#111" stroke="#111" stroke-width="0.13"  transform="translate(362.84 184.80) rotate(0.1) scale(0.860 1) translate(-362.84 -184.80)">500</text>
<text x="392.7" y="184.8" font-size="7.60" text-anchor="middle" font-weight="normal" fill="#111" stroke="#111" stroke-width="0.13"  transform="translate(392.66 184.80) rotate(0.1) scale(0.860 1) translate(-392.66 -184.80)">600</text>
<text x="422.5" y="184.8" font-size="7.60" text-anchor="middle" font-weight="normal" fill="#111" stroke="#111" stroke-width="0.13"  transform="translate(422.47 184.80) rotate(0.1) scale(0.860 1) translate(-422.47 -184.80)">700</text>
<text x="452.3" y="184.8" font-size="7.60" text-anchor="middle" font-weight="normal" fill="#111" stroke="#111" stroke-width="0.13"  transform="translate(452.29 184.80) rotate(0.1) scale(0.860 1) translate(-452.29 -184.80)">800</text>
<text x="482.1" y="184.8" font-size="7.60" text-anchor="middle" font-weight="normal" fill="#111" stroke="#111" stroke-width="0.13"  transform="translate(482.10 184.80) rotate(0.1) scale(0.860 1) translate(-482.10 -184.80)">900</text>
<text x="268.6" y="176.0" font-size="7.60" text-anchor="end" font-weight="normal" fill="#111" stroke="#111" stroke-width="0.13"  transform="translate(268.60 176.00) rotate(0.1) scale(0.860 1) translate(-268.60 -176.00)">0</text>
<text x="268.6" y="141.9" font-size="7.60" text-anchor="end" font-weight="normal" fill="#111" stroke="#111" stroke-width="0.13"  transform="translate(268.60 141.92) rotate(0.1) scale(0.860 1) translate(-268.60 -141.92)">20</text>
<text x="268.6" y="107.8" font-size="7.60" text-anchor="end" font-weight="normal" fill="#111" stroke="#111" stroke-width="0.13"  transform="translate(268.60 107.84) rotate(0.1) scale(0.860 1) translate(-268.60 -107.84)">40</text>
<text x="268.6" y="73.8" font-size="7.60" text-anchor="end" font-weight="normal" fill="#111" stroke="#111" stroke-width="0.13"  transform="translate(268.60 73.76) rotate(0.1) scale(0.860 1) translate(-268.60 -73.76)">60</text>
<text x="268.6" y="39.7" font-size="7.60" text-anchor="end" font-weight="normal" fill="#111" stroke="#111" stroke-width="0.13"  transform="translate(268.60 39.68) rotate(0.1) scale(0.860 1) translate(-268.60 -39.68)">80</text>
<text x="268.6" y="5.6" font-size="7.60" text-anchor="end" font-weight="normal" fill="#111" stroke="#111" stroke-width="0.13"  transform="translate(268.60 5.60) rotate(0.1) scale(0.860 1) translate(-268.60 -5.60)">100</text>
<text x="371.6" y="195.8" font-size="8.20" text-anchor="middle" font-weight="normal" fill="#111" stroke="#111" stroke-width="0.08"  transform="rotate(0.1 371.6 195.8)">Wavelength (nm)</text>
<text transform="translate(254.5,86) rotate(-89.9)" font-size="8.6" text-anchor="middle" fill="#111">Transmittance (%T)</text>
<text x="275.6" y="13.0" font-size="8.00" text-anchor="start" font-weight="normal" fill="#111" stroke="#111" stroke-width="0.08"  transform="rotate(0.1 275.6 13.0)">b)</text>
<text x="373.6" y="13.8" font-size="8.00" text-anchor="start" font-weight="normal" fill="#111" stroke="#111" stroke-width="0.08"  transform="rotate(0.1 373.6 13.8)">500<tspan dy="-3" font-size="5">o</tspan><tspan dy="3">C, 60 min, Vacuum</tspan></text>
<path d="M273.4,173.3 L275.7,173.3 L278.7,173.3 L282.4,173.3 L286.5,173.3 L290.9,173.3 L295.5,173.4 L300.1,173.4 L304.5,173.4 L308.7,173.4 L312.4,173.3 L315.6,173.3 L318.0,173.3 L319.7,173.3 L321.0,173.3 L321.8,173.4 L322.3,173.5 L322.5,173.5 L322.5,173.6 L322.3,173.6 L322.0,173.5 L321.8,173.4 L321.6,173.2 L321.5,172.9 L321.6,172.5 L321.8,172.0 L322.0,171.5 L322.2,170.9 L322.4,170.3 L322.5,169.5 L322.7,168.8 L322.8,167.9 L323.0,166.9 L323.1,165.9 L323.2,164.7 L323.4,163.4 L323.5,162.0 L323.6,160.4 L323.8,158.6 L323.9,156.7 L324.0,154.6 L324.1,152.5 L324.2,150.2 L324.4,147.9 L324.5,145.6 L324.6,143.4 L324.7,141.2 L324.9,139.0 L325.0,137.0 L325.1,135.1 L325.3,133.1 L325.5,131.2 L325.6,129.3 L325.8,127.5 L325.9,125.6 L326.1,123.8 L326.3,122.0 L326.5,120.2 L326.6,118.5 L326.8,116.7 L327.0,115.0 L327.2,113.3 L327.4,111.6 L327.6,109.9 L327.8,108.1 L328.0,106.5 L328.2,104.8 L328.5,103.2 L328.7,101.6 L328.9,100.1 L329.1,98.7 L329.3,97.3 L329.5,96.0 L329.7,94.8 L329.9,93.6 L330.0,92.6 L330.2,91.6 L330.4,90.6 L330.6,89.7 L330.7,88.8 L330.9,88.0 L331.0,87.2 L331.2,86.5 L331.4,85.7 L331.5,85.0 L331.6,84.3 L331.8,83.7 L331.9,83.1 L332.0,82.6 L332.1,82.1 L332.2,81.6 L332.3,81.2 L332.4,80.7 L332.5,80.3 L332.7,79.8 L332.8,79.3 L333.0,78.7 L333.2,78.1 L333.4,77.5 L333.7,76.8 L333.9,76.2 L334.2,75.5 L334.5,74.8 L334.7,74.2 L335.0,73.5 L335.3,72.8 L335.5,72.2 L335.8,71.6 L336.0,71.0 L336.2,70.4 L336.4,69.9 L336.6,69.4 L336.7,69.0 L336.9,68.5 L337.1,68.0 L337.2,67.6 L337.4,67.1 L337.6,66.6 L337.8,66.1 L338.0,65.6 L338.2,65.0 L338.4,64.4 L338.7,63.7 L339.0,62.9 L339.2,62.2 L339.5,61.4 L339.8,60.6 L340.1,59.9 L340.4,59.1 L340.7,58.4 L341.0,57.8 L341.4,57.2 L341.7,56.7 L342.0,56.3 L342.4,55.9 L342.8,55.6 L343.1,55.3 L343.5,55.1 L343.9,54.9 L344.3,54.7 L344.7,54.6 L345.1,54.5 L345.5,54.4 L345.9,54.4 L346.3,54.3 L346.7,54.3 L347.1,54.3 L347.6,54.4 L348.0,54.5 L348.5,54.7 L348.9,54.8 L349.4,55.0 L349.9,55.1 L350.3,55.3 L350.7,55.4 L351.2,55.5 L351.6,55.5 L352.0,55.5 L352.4,55.5 L352.7,55.6 L353.1,55.6 L353.4,55.6 L353.8,55.6 L354.2,55.5 L354.5,55.4 L354.9,55.3 L355.4,55.1 L355.8,54.9 L356.3,54.6 L356.8,54.2 L357.4,53.8 L358.0,53.2 L358.7,52.6 L359.3,52.0 L360.0,51.3 L360.7,50.7 L361.4,50.0 L362.0,49.3 L362.7,48.7 L363.4,48.1 L364.0,47.5 L364.6,47.0 L365.2,46.5 L365.7,46.0 L366.2,45.6 L366.7,45.1 L367.3,44.7 L367.8,44.2 L368.4,43.8 L369.0,43.4 L369.6,42.9 L370.3,42.5 L371.1,42.0 L371.9,41.5 L372.8,41.0 L373.8,40.4 L374.8,39.8 L375.9,39.2 L376.9,38.7 L378.0,38.1 L379.1,37.6 L380.2,37.2 L381.3,36.8 L382.4,36.5 L383.4,36.3 L384.4,36.2 L385.5,36.2 L386.6,36.3 L387.6,36.5 L388.7,36.7 L389.8,37.0 L390.8,37.3 L391.9,37.6 L392.9,37.9 L393.9,38.2 L394.8,38.5 L395.7,38.7 L396.5,38.9 L397.2,39.2 L397.8,39.5 L398.3,39.9 L398.8,40.2 L399.3,40.5 L399.8,40.8 L400.5,41.0 L401.2,41.2 L402.1,41.2 L403.2,41.1 L404.5,40.8 L406.1,40.4 L407.9,39.8 L409.9,39.0 L412.1,38.2 L414.4,37.3 L416.7,36.3 L419.1,35.3 L421.5,34.2 L423.8,33.2 L426.0,32.2 L428.1,31.3 L430.0,30.5 L431.7,29.7 L433.3,29.0 L434.8,28.3 L436.3,27.5 L437.7,26.8 L439.0,26.1 L440.3,25.5 L441.6,24.8 L442.9,24.2 L444.2,23.6 L445.6,23.0 L447.0,22.5 L448.4,22.0 L449.9,21.5 L451.4,21.0 L452.9,20.6 L454.4,20.2 L455.3,20.0 L456.2,19.5 L457.1,19.1 L458.0,19.8 L458.9,18.6 L459.8,18.2 L460.7,19.0 L461.6,18.1 L462.5,19.4 L463.4,17.4 L464.3,19.4 L465.2,17.4 L466.1,18.1 L467.0,19.0 L467.9,18.2 L468.8,18.9 L469.7,18.2 L470.6,16.2 L471.5,18.6 L472.4,17.8 L473.3,16.9 L474.2,16.5 L475.1,18.5 L476.0,17.7 L476.9,18.8 L477.8,18.3 L478.7,18.9 L479.6,17.7 L480.5,18.1" fill="none" stroke="#1a1a1a" stroke-width="2.2" stroke-linejoin="round" stroke-linecap="round"/>
<path d="M273.4,173.3 L275.7,173.3 L278.7,173.3 L282.4,173.3 L286.5,173.3 L290.9,173.3 L295.5,173.4 L300.1,173.4 L304.5,173.4 L308.7,173.4 L312.4,173.3 L315.6,173.3 L318.0,173.3 L319.7,173.3 L321.0,173.3 L321.8,173.4 L322.3,173.5 L322.5,173.5 L322.5,173.6 L322.3,173.6 L322.0,173.5 L321.8,173.4 L321.6,173.2 L321.5,172.9 L321.6,172.5 L321.8,172.0 L322.0,171.5 L322.2,170.9 L322.4,170.3 L322.5,169.5 L322.7,168.8 L322.8,167.9 L323.0,166.9 L323.1,165.9 L323.2,164.7 L323.4,163.4 L323.5,162.0 L323.6,160.4 L323.8,158.6 L323.9,156.7 L324.0,154.6 L324.1,152.5 L324.2,150.2 L324.4,147.9 L324.5,145.6 L324.6,143.4 L324.7,141.2 L324.9,139.0 L325.0,137.0 L325.1,135.1 L325.3,133.1 L325.5,131.2 L325.6,129.3 L325.8,127.5 L325.9,125.6 L326.1,123.8 L326.3,122.0 L326.5,120.2 L326.6,118.5 L326.8,116.7 L327.0,115.0 L327.2,113.3 L327.4,111.6 L327.6,109.9 L327.8,108.1 L328.0,106.5 L328.2,104.8 L328.5,103.2 L328.7,101.6 L328.9,100.1 L329.1,98.7 L329.3,97.3 L329.5,96.0 L329.7,94.8 L329.9,93.6 L330.0,92.6 L330.2,91.6 L330.4,90.6 L330.6,89.7 L330.7,88.8 L330.9,88.0 L331.0,87.2 L331.2,86.5 L331.4,85.7 L331.5,85.0 L331.6,84.3 L331.8,83.7 L331.9,83.1 L332.0,82.6 L332.1,82.1 L332.2,81.6 L332.3,81.1 L332.4,80.7 L332.5,80.2 L332.7,79.7 L332.8,79.2 L333.0,78.7 L333.2,78.1 L333.4,77.5 L333.6,76.8 L333.8,76.1 L334.0,75.4 L334.2,74.7 L334.4,74.0 L334.7,73.4 L334.9,72.8 L335.2,72.4 L335.6,72.0 L335.9,71.7 L336.3,71.6 L336.7,71.6 L337.1,71.7 L337.6,72.0 L338.1,72.2 L338.5,72.6 L339.1,72.9 L339.6,73.2 L340.1,73.4 L340.6,73.6 L341.2,73.6 L341.7,73.5 L342.2,73.3 L342.8,73.0 L343.4,72.6 L344.0,72.1 L344.6,71.6 L345.3,71.0 L345.9,70.4 L346.5,69.8 L347.1,69.2 L347.6,68.5 L348.2,67.8 L348.7,67.1 L349.2,66.4 L349.6,65.6 L350.0,64.7 L350.5,63.8 L350.8,62.9 L351.2,61.9 L351.6,61.0 L352.0,60.1 L352.3,59.2 L352.7,58.4 L353.1,57.6 L353.5,57.0 L353.9,56.4 L354.3,55.9 L354.7,55.4 L355.2,54.9 L355.6,54.5 L356.0,54.1 L356.4,53.8 L356.8,53.5 L357.3,53.2 L357.7,53.0 L358.1,52.9 L358.6,52.8 L359.1,52.8 L359.5,52.8 L360.0,52.9 L360.4,53.1 L360.9,53.3 L361.4,53.5 L361.9,53.8 L362.4,54.1 L362.9,54.4 L363.4,54.7 L363.9,55.0 L364.4,55.2 L364.9,55.5 L365.4,55.8 L366.0,56.1 L366.5,56.5 L367.0,56.8 L367.6,57.2 L368.1,57.5 L368.7,57.8 L369.2,58.1 L369.8,58.2 L370.5,58.3 L371.1,58.3 L371.8,58.2 L372.5,58.0 L373.2,57.7 L374.0,57.4 L374.7,57.0 L375.5,56.6 L376.3,56.1 L377.1,55.6 L377.8,55.1 L378.6,54.6 L379.3,54.0 L380.0,53.5 L380.7,53.0 L381.3,52.4 L381.9,51.8 L382.5,51.2 L383.1,50.6 L383.7,50.0 L384.2,49.3 L384.8,48.7 L385.5,48.0 L386.1,47.3 L386.8,46.6 L387.5,45.9 L388.3,45.1 L389.1,44.3 L389.9,43.4 L390.8,42.5 L391.7,41.6 L392.6,40.7 L393.5,39.8 L394.4,39.0 L395.3,38.2 L396.2,37.5 L397.0,36.9 L397.8,36.5 L398.6,36.2 L399.3,36.0 L400.0,35.9 L400.7,35.9 L401.3,35.9 L402.0,36.0 L402.6,36.1 L403.3,36.3 L403.9,36.5 L404.6,36.7 L405.3,36.9 L406.0,37.0 L406.7,37.1 L407.4,37.3 L408.1,37.5 L408.8,37.7 L409.5,38.0 L410.3,38.2 L411.0,38.4 L411.8,38.7 L412.5,38.9 L413.3,39.1 L414.1,39.3 L415.0,39.5 L415.9,39.7 L416.8,39.8 L417.7,40.0 L418.7,40.2 L419.7,40.3 L420.7,40.5 L421.7,40.6 L422.7,40.7 L423.8,40.8 L424.8,40.8 L425.9,40.8 L426.9,40.8 L427.9,40.7 L429.0,40.6 L430.0,40.5 L431.1,40.4 L432.2,40.2 L433.3,40.0 L434.3,39.8 L435.4,39.5 L436.6,39.2 L437.7,38.9 L438.8,38.5 L440.0,38.0 L441.2,37.5 L442.4,36.8 L443.7,36.2 L445.0,35.4 L446.3,34.6 L447.6,33.8 L448.9,33.0 L450.2,32.1 L451.4,31.3 L452.7,30.5 L453.8,29.7 L455.0,29.0 L456.1,28.3 L457.2,27.6 L458.3,26.9 L459.3,26.2 L460.2,25.7 L461.1,25.2 L462.0,24.8 L462.9,23.4 L463.8,23.4 L464.7,22.6 L465.6,22.3 L466.5,20.9 L467.4,20.5 L468.3,20.7 L469.2,19.7 L470.1,20.0 L471.0,18.4 L471.9,18.3 L472.8,19.8 L473.7,18.7 L474.6,18.7 L475.5,19.1 L476.4,17.7 L477.3,16.6 L478.2,18.6 L479.1,17.8 L480.0,18.0 L480.9,17.9" fill="none" stroke="#ff1010" stroke-width="2.2" stroke-linejoin="round" stroke-linecap="round"/>
<path d="M273.4,173.3 L275.7,173.3 L278.7,173.3 L282.4,173.3 L286.5,173.3 L290.9,173.3 L295.5,173.4 L300.1,173.4 L304.5,173.4 L308.7,173.4 L312.4,173.3 L315.6,173.3 L318.0,173.3 L319.7,173.3 L321.0,173.3 L321.8,173.4 L322.3,173.5 L322.5,173.5 L322.5,173.6 L322.3,173.6 L322.0,173.5 L321.8,173.4 L321.6,173.2 L321.5,172.9 L321.6,172.5 L321.8,172.0 L322.0,171.5 L322.2,170.9 L322.4,170.3 L322.5,169.5 L322.7,168.8 L322.8,167.9 L323.0,166.9 L323.1,165.9 L323.2,164.7 L323.4,163.4 L323.5,162.0 L323.6,160.4 L323.8,158.6 L323.9,156.7 L324.0,154.6 L324.1,152.5 L324.2,150.2 L324.4,147.9 L324.5,145.6 L324.6,143.4 L324.7,141.2 L324.9,139.0 L325.0,137.0 L325.1,135.1 L325.3,133.1 L325.5,131.2 L325.6,129.3 L325.8,127.5 L325.9,125.6 L326.1,123.8 L326.3,122.0 L326.5,120.2 L326.6,118.5 L326.8,116.7 L327.0,115.0 L327.2,113.3 L327.4,111.6 L327.6,109.9 L327.8,108.1 L328.0,106.5 L328.2,104.8 L328.5,103.2 L328.7,101.6 L328.9,100.1 L329.1,98.7 L329.3,97.3 L329.5,96.0 L329.7,94.8 L329.9,93.7 L330.1,92.6 L330.2,91.7 L330.4,90.7 L330.6,89.9 L330.8,89.0 L330.9,88.2 L331.1,87.4 L331.2,86.6 L331.4,85.8 L331.5,85.0 L331.6,84.2 L331.7,83.5 L331.7,82.8 L331.8,82.1 L331.8,81.4 L331.8,80.8 L331.9,80.1 L331.9,79.4 L332.0,78.7 L332.1,78.0 L332.2,77.2 L332.4,76.3 L332.6,75.4 L332.9,74.3 L333.2,73.2 L333.5,72.1 L333.9,70.9 L334.3,69.8 L334.6,68.6 L335.0,67.5 L335.4,66.4 L335.8,65.4 L336.2,64.4 L336.5,63.6 L336.8,62.8 L337.1,62.1 L337.5,61.4 L337.8,60.8 L338.1,60.2 L338.4,59.7 L338.7,59.2 L339.0,58.8 L339.3,58.4 L339.7,58.1 L340.1,57.9 L340.5,57.8 L341.0,57.8 L341.4,57.9 L341.9,58.2 L342.5,58.6 L343.0,59.0 L343.6,59.5 L344.1,60.0 L344.7,60.4 L345.3,60.8 L345.8,61.1 L346.4,61.3 L346.9,61.3 L347.4,61.2 L347.9,61.0 L348.4,60.7 L348.9,60.4 L349.4,60.0 L349.9,59.5 L350.4,59.0 L350.9,58.4 L351.3,57.9 L351.8,57.3 L352.3,56.6 L352.8,56.0 L353.3,55.3 L353.8,54.5 L354.3,53.7 L354.7,52.8 L355.2,51.8 L355.7,50.9 L356.2,49.9 L356.7,49.0 L357.2,48.1 L357.6,47.3 L358.1,46.5 L358.6,45.9 L359.1,45.3 L359.6,44.8 L360.1,44.3 L360.6,43.9 L361.1,43.5 L361.6,43.2 L362.1,42.9 L362.6,42.6 L363.1,42.4 L363.6,42.1 L364.0,42.0 L364.4,41.8 L364.8,41.7 L365.1,41.6 L365.4,41.6 L365.7,41.6 L366.0,41.6 L366.2,41.7 L366.5,41.8 L366.8,41.9 L367.1,42.0 L367.3,42.2 L367.7,42.3 L368.0,42.4 L368.4,42.5 L368.7,42.6 L369.0,42.8 L369.4,42.9 L369.8,43.1 L370.1,43.3 L370.5,43.4 L371.0,43.6 L371.4,43.8 L371.9,44.1 L372.4,44.3 L373.0,44.5 L373.6,44.8 L374.3,45.2 L375.0,45.7 L375.7,46.2 L376.5,46.7 L377.3,47.2 L378.1,47.7 L379.0,48.0 L379.8,48.3 L380.7,48.4 L381.5,48.3 L382.4,48.0 L383.3,47.5 L384.1,46.7 L385.0,45.7 L385.9,44.6 L386.8,43.4 L387.7,42.0 L388.6,40.7 L389.6,39.3 L390.5,38.0 L391.6,36.7 L392.6,35.6 L393.7,34.6 L394.8,33.7 L396.0,32.8 L397.3,31.9 L398.6,31.0 L399.9,30.2 L401.2,29.4 L402.6,28.7 L403.9,28.1 L405.2,27.5 L406.5,27.0 L407.8,26.6 L409.0,26.3 L410.2,26.1 L411.3,26.1 L412.4,26.2 L413.4,26.3 L414.5,26.6 L415.5,26.8 L416.5,27.2 L417.6,27.6 L418.6,27.9 L419.7,28.3 L420.8,28.7 L422.0,29.0 L423.2,29.3 L424.4,29.8 L425.6,30.3 L426.9,30.8 L428.1,31.3 L429.4,31.8 L430.7,32.3 L432.0,32.7 L433.3,33.1 L434.7,33.4 L436.0,33.5 L437.4,33.5 L438.8,33.3 L440.2,33.1 L441.6,32.7 L443.0,32.2 L444.5,31.7 L445.9,31.0 L447.4,30.4 L448.9,29.7 L450.4,29.0 L451.9,28.3 L453.4,27.6 L455.0,27.0 L455.9,26.8 L456.8,26.7 L457.7,25.4 L458.6,26.7 L459.5,24.3 L460.4,25.4 L461.3,22.8 L462.2,25.2 L463.1,21.9 L464.0,24.3 L464.9,24.0 L465.8,23.8 L466.7,21.8 L467.6,23.6 L468.5,23.8 L469.4,19.1 L470.3,20.7 L471.2,22.6 L472.1,21.1 L473.0,19.3 L473.9,18.2 L474.8,21.1 L475.7,16.5 L476.6,19.6 L477.5,19.8 L478.4,16.2 L479.3,17.0 L480.2,17.0" fill="none" stroke="#3030ff" stroke-width="2.2" stroke-linejoin="round" stroke-linecap="round"/>
<path d="M273.4,173.3 L275.7,173.3 L278.7,173.3 L282.4,173.3 L286.5,173.3 L290.9,173.3 L295.5,173.4 L300.1,173.4 L304.5,173.4 L308.7,173.4 L312.4,173.3 L315.6,173.3 L318.0,173.3 L319.7,173.3 L321.0,173.3 L321.8,173.4 L322.3,173.5 L322.5,173.5 L322.5,173.6 L322.3,173.6 L322.0,173.5 L321.8,173.4 L321.6,173.2 L321.5,172.9 L321.6,172.5 L321.8,172.0 L322.0,171.5 L322.2,170.9 L322.4,170.3 L322.5,169.5 L322.7,168.8 L322.8,167.9 L323.0,166.9 L323.1,165.9 L323.2,164.7 L323.4,163.4 L323.5,162.0 L323.6,160.4 L323.8,158.6 L323.9,156.7 L324.0,154.6 L324.1,152.5 L324.2,150.2 L324.4,147.9 L324.5,145.6 L324.6,143.4 L324.7,141.2 L324.9,139.0 L325.0,137.0 L325.1,135.1 L325.3,133.1 L325.5,131.2 L325.6,129.3 L325.8,127.5 L325.9,125.6 L326.1,123.8 L326.3,122.0 L326.5,120.2 L326.6,118.5 L326.8,116.7 L327.0,115.0 L327.2,113.3 L327.4,111.6 L327.6,109.9 L327.8,108.1 L328.0,106.5 L328.2,104.8 L328.5,103.2 L328.7,101.6 L328.9,100.1 L329.1,98.7 L329.3,97.3 L329.5,96.0 L329.7,94.8 L329.9,93.6 L330.0,92.6 L330.2,91.6 L330.4,90.6 L330.6,89.7 L330.7,88.8 L330.9,88.0 L331.0,87.2 L331.2,86.5 L331.4,85.7 L331.5,85.0 L331.6,84.3 L331.7,83.7 L331.8,83.1 L331.9,82.6 L332.0,82.0 L332.1,81.6 L332.2,81.1 L332.3,80.6 L332.5,80.2 L332.6,79.7 L332.8,79.2 L333.0,78.7 L333.2,78.2 L333.5,77.6 L333.8,77.0 L334.2,76.4 L334.5,75.9 L334.9,75.3 L335.2,74.7 L335.6,74.2 L336.0,73.7 L336.4,73.2 L336.7,72.7 L337.1,72.3 L337.5,71.9 L337.8,71.6 L338.2,71.4 L338.6,71.1 L339.0,70.9 L339.4,70.7 L339.8,70.6 L340.1,70.4 L340.5,70.2 L340.9,69.9 L341.3,69.7 L341.7,69.4 L342.1,69.1 L342.5,68.8 L342.8,68.5 L343.2,68.1 L343.6,67.8 L344.0,67.4 L344.4,67.1 L344.8,66.7 L345.1,66.2 L345.5,65.8 L345.9,65.3 L346.3,64.8 L346.7,64.2 L347.1,63.6 L347.4,62.9 L347.8,62.1 L348.2,61.3 L348.5,60.6 L348.9,59.8 L349.3,59.0 L349.7,58.3 L350.1,57.7 L350.5,57.2 L351.0,56.7 L351.5,56.3 L352.0,56.0 L352.5,55.8 L353.0,55.6 L353.5,55.4 L354.1,55.3 L354.6,55.2 L355.2,55.2 L355.8,55.2 L356.3,55.2 L356.9,55.2 L357.4,55.2 L357.9,55.3 L358.4,55.4 L358.9,55.7 L359.3,56.0 L359.8,56.3 L360.2,56.6 L360.7,56.9 L361.2,57.2 L361.8,57.3 L362.4,57.4 L363.1,57.4 L363.9,57.2 L364.8,56.9 L365.8,56.4 L366.9,55.8 L368.0,55.1 L369.2,54.4 L370.4,53.6 L371.7,52.8 L372.9,52.0 L374.1,51.1 L375.2,50.4 L376.2,49.6 L377.2,49.0 L378.0,48.4 L378.8,47.8 L379.5,47.1 L380.2,46.5 L380.8,45.9 L381.4,45.3 L381.9,44.8 L382.5,44.3 L383.2,43.8 L383.8,43.4 L384.6,43.1 L385.4,42.9 L386.3,42.8 L387.3,42.8 L388.3,42.8 L389.4,43.0 L390.5,43.2 L391.6,43.4 L392.7,43.6 L393.8,43.9 L394.9,44.2 L395.9,44.5 L396.9,44.7 L397.8,44.9 L398.6,45.1 L399.3,45.4 L400.0,45.7 L400.6,46.0 L401.2,46.3 L401.8,46.6 L402.4,46.9 L403.0,47.1 L403.6,47.2 L404.3,47.3 L405.1,47.2 L406.0,47.0 L407.0,46.7 L408.0,46.2 L409.2,45.6 L410.4,44.9 L411.6,44.1 L412.9,43.2 L414.2,42.4 L415.4,41.5 L416.6,40.7 L417.8,39.9 L419.0,39.2 L420.0,38.5 L421.0,37.9 L421.9,37.3 L422.7,36.8 L423.6,36.2 L424.4,35.7 L425.2,35.2 L425.9,34.7 L426.7,34.3 L427.5,33.8 L428.3,33.4 L429.1,33.0 L430.0,32.6 L430.9,32.2 L431.8,31.8 L432.7,31.5 L433.6,31.1 L434.5,30.8 L435.4,30.4 L436.3,30.2 L437.3,29.9 L438.3,29.7 L439.3,29.5 L440.4,29.4 L441.5,29.3 L442.7,29.3 L443.8,29.3 L445.1,29.4 L446.4,29.6 L447.6,29.7 L449.0,29.9 L449.9,30.1 L450.8,30.5 L451.7,30.9 L452.6,30.0 L453.5,31.9 L454.4,31.5 L455.3,29.0 L456.2,33.8 L457.1,30.0 L458.0,30.4 L458.9,31.4 L459.8,32.7 L460.7,29.7 L461.6,33.9 L462.5,35.1 L463.4,33.1 L464.3,35.3 L465.2,34.4 L466.1,36.0 L467.0,31.8 L467.9,33.3 L468.8,34.3 L469.7,32.0 L470.6,38.3 L471.5,36.2 L472.4,32.6 L473.3,36.2 L474.2,35.3 L475.1,33.9 L476.0,33.8 L476.9,36.1 L477.8,33.5 L478.7,37.1 L479.6,36.9 L480.5,34.3" fill="none" stroke="#0a8585" stroke-width="2.2" stroke-linejoin="round" stroke-linecap="round"/>
<path d="M273.4,173.3 L275.7,173.3 L278.7,173.3 L282.3,173.3 L286.3,173.3 L290.7,173.3 L295.2,173.4 L299.8,173.4 L304.2,173.4 L308.3,173.4 L312.0,173.3 L315.1,173.3 L317.5,173.3 L319.2,173.3 L320.5,173.3 L321.3,173.4 L321.7,173.5 L321.9,173.5 L321.9,173.6 L321.7,173.6 L321.5,173.5 L321.2,173.4 L321.0,173.2 L320.9,172.9 L321.0,172.5 L321.2,172.0 L321.4,171.5 L321.6,170.9 L321.7,170.3 L321.9,169.5 L322.0,168.8 L322.2,167.9 L322.3,166.9 L322.4,165.9 L322.5,164.7 L322.7,163.4 L322.8,162.0 L322.9,160.4 L323.1,158.6 L323.2,156.7 L323.3,154.6 L323.4,152.5 L323.5,150.2 L323.7,147.9 L323.8,145.6 L323.9,143.4 L324.0,141.2 L324.2,139.0 L324.3,137.0 L324.4,135.0 L324.6,133.1 L324.7,131.2 L324.9,129.3 L325.1,127.4 L325.2,125.5 L325.4,123.7 L325.6,121.9 L325.7,120.1 L325.9,118.4 L326.1,116.7 L326.3,115.0 L326.5,113.4 L326.7,111.8 L326.9,110.3 L327.2,108.9 L327.4,107.4 L327.7,106.0 L327.9,104.6 L328.1,103.2 L328.4,101.8 L328.6,100.3 L328.8,98.8 L329.0,97.2 L329.2,95.5 L329.3,93.8 L329.5,92.0 L329.6,90.1 L329.7,88.2 L329.9,86.4 L330.0,84.5 L330.1,82.7 L330.3,80.9 L330.4,79.3 L330.5,77.7 L330.7,76.3 L330.9,75.0 L331.0,73.8 L331.2,72.6 L331.4,71.6 L331.6,70.6 L331.8,69.6 L332.0,68.7 L332.2,67.9 L332.4,67.1 L332.6,66.3 L332.8,65.5 L333.0,64.8 L333.2,64.1 L333.4,63.5 L333.7,62.9 L333.9,62.4 L334.1,62.0 L334.4,61.5 L334.6,61.1 L334.9,60.7 L335.1,60.3 L335.4,59.9 L335.6,59.5 L335.9,59.0 L336.2,58.5 L336.4,58.1 L336.7,57.7 L337.0,57.3 L337.3,56.9 L337.5,56.5 L337.8,56.1 L338.1,55.7 L338.4,55.1 L338.7,54.6 L339.1,53.9 L339.4,53.2 L339.7,52.4 L340.1,51.4 L340.5,50.3 L340.8,49.1 L341.2,47.9 L341.6,46.7 L342.0,45.5 L342.4,44.3 L342.8,43.2 L343.2,42.1 L343.6,41.2 L344.0,40.4 L344.4,39.7 L344.8,39.1 L345.3,38.5 L345.7,38.0 L346.2,37.6 L346.6,37.2 L347.1,36.9 L347.6,36.6 L348.0,36.4 L348.4,36.2 L348.9,36.1 L349.3,36.0 L349.7,36.0 L350.1,36.1 L350.5,36.2 L350.9,36.5 L351.2,36.7 L351.6,37.1 L352.0,37.4 L352.4,37.7 L352.8,38.1 L353.2,38.4 L353.6,38.7 L354.0,38.9 L354.4,39.1 L354.9,39.3 L355.3,39.5 L355.8,39.8 L356.3,40.0 L356.7,40.2 L357.2,40.4 L357.7,40.5 L358.2,40.6 L358.7,40.7 L359.3,40.7 L359.8,40.7 L360.4,40.6 L360.9,40.5 L361.5,40.3 L362.1,40.1 L362.8,39.9 L363.4,39.7 L364.0,39.4 L364.6,39.0 L365.2,38.7 L365.8,38.3 L366.4,37.9 L367.0,37.5 L367.5,37.1 L368.0,36.6 L368.5,36.0 L368.9,35.5 L369.3,34.9 L369.7,34.3 L370.2,33.7 L370.6,33.0 L371.2,32.4 L371.7,31.8 L372.4,31.1 L373.1,30.5 L373.9,29.8 L374.8,29.1 L375.8,28.3 L376.8,27.5 L377.9,26.7 L379.0,25.9 L380.1,25.1 L381.2,24.4 L382.3,23.8 L383.4,23.3 L384.4,22.9 L385.4,22.7 L386.3,22.6 L387.2,22.7 L388.0,22.9 L388.8,23.2 L389.5,23.6 L390.3,24.1 L391.1,24.6 L391.9,25.2 L392.7,25.8 L393.7,26.4 L394.6,26.9 L395.7,27.5 L396.9,28.1 L398.1,28.8 L399.5,29.6 L400.8,30.5 L402.3,31.4 L403.7,32.2 L405.2,33.1 L406.7,33.9 L408.1,34.6 L409.5,35.1 L410.8,35.6 L412.1,35.8 L413.3,35.9 L414.4,35.8 L415.5,35.6 L416.6,35.3 L417.6,34.9 L418.6,34.5 L419.7,34.0 L420.7,33.4 L421.7,32.8 L422.8,32.2 L423.9,31.6 L425.0,31.0 L426.2,30.4 L427.4,29.7 L428.6,29.0 L429.8,28.2 L431.0,27.5 L432.3,26.7 L433.6,25.8 L434.8,25.0 L436.1,24.2 L437.4,23.5 L438.7,22.7 L440.0,22.0 L441.3,21.3 L442.7,20.6 L444.0,19.9 L445.4,19.3 L446.8,18.6 L448.2,18.0 L449.6,17.3 L450.5,16.8 L451.4,16.7 L452.3,16.4 L453.2,15.8 L454.1,14.6 L455.0,16.2 L455.9,16.2 L456.8,14.6 L457.7,14.3 L458.6,12.4 L459.5,10.8 L460.4,12.8 L461.3,14.0 L462.2,10.7 L463.1,14.9 L464.0,11.4 L464.9,11.3 L465.8,10.0 L466.7,15.6 L467.6,13.9 L468.5,14.6 L469.4,12.8 L470.3,9.1 L471.2,10.7 L472.1,11.5 L473.0,9.0 L473.9,13.7 L474.8,10.0 L475.7,8.5 L476.6,12.2 L477.5,7.8 L478.4,12.3 L479.3,9.2 L480.2,9.5" fill="none" stroke="#ff10ff" stroke-width="2.2" stroke-linejoin="round" stroke-linecap="round"/>
<path d="M281.2,19.5H299.4" stroke="#ff99ff" stroke-width="0.9"/>
<circle cx="290.3" cy="19.5" r="1.1" fill="#ff55ff"/>
<text x="301.5" y="22.3" font-size="8.00" text-anchor="start" font-weight="normal" fill="#111" stroke="#111" stroke-width="0.08"  transform="rotate(0.1 301.5 22.3)">ZnO</text>
<text x="280.1" y="31.0" font-size="8.00" text-anchor="start" font-weight="normal" fill="#111" stroke="#111" stroke-width="0.08"  transform="rotate(0.1 280.1 31.0)">Zn<tspan font-size="5.9" dy="1.8">0.99</tspan><tspan dy="-1.8">Ga</tspan><tspan font-size="5.9" dy="1.8">0.01</tspan><tspan dy="-1.8">O:Zn</tspan><tspan font-size="5.6" dy="-3.4">2+</tspan><tspan font-size="5.6" dx="-6.5" dy="5.8">y</tspan></text>
<text x="299.5" y="43.6" font-size="8.00" text-anchor="start" font-weight="normal" fill="#111" stroke="#111" stroke-width="0.08"  transform="rotate(0.1 299.5 43.6)">y (at%)</text>
<path d="M281.5,50.1H299.5" stroke="#a8a8a8" stroke-width="0.9"/>
<circle cx="290.5" cy="50.1" r="1.1" fill="#555"/>
<text x="301.0" y="52.9" font-size="8.00" text-anchor="start" font-weight="normal" fill="#111" stroke="#111" stroke-width="0.08"  transform="rotate(0.1 301.0 52.9)">0</text>
<path d="M281.5,60.2H299.5" stroke="#ff9090" stroke-width="0.9"/>
<circle cx="290.5" cy="60.2" r="1.1" fill="#ff1010"/>
<text x="301.0" y="63.0" font-size="8.00" text-anchor="start" font-weight="normal" fill="#111" stroke="#111" stroke-width="0.08"  transform="rotate(0.1 301.0 63.0)">0.5</text>
<path d="M281.5,70.0H299.5" stroke="#a0a0ff" stroke-width="0.9"/>
<circle cx="290.5" cy="70.0" r="1.1" fill="#3030ff"/>
<text x="301.0" y="72.8" font-size="8.00" text-anchor="start" font-weight="normal" fill="#111" stroke="#111" stroke-width="0.08"  transform="rotate(0.1 301.0 72.8)">1.0</text>
<path d="M281.5,79.9H299.5" stroke="#90c8c8" stroke-width="0.9"/>
<circle cx="290.5" cy="79.9" r="1.1" fill="#0a8585"/>
<text x="301.0" y="82.7" font-size="8.00" text-anchor="start" font-weight="normal" fill="#111" stroke="#111" stroke-width="0.08"  transform="rotate(0.1 301.0 82.7)">1.5</text>
<rect x="364.4" y="65.6" width="110.7" height="91.4" fill="#fff" stroke="#555" stroke-width="1"/>
<path d="M364.4,157.0 v1.5 M389.0,157.0 v1.5 M413.7,157.0 v1.5 M438.3,157.0 v1.5 M463.0,157.0 v1.5 " stroke="#555" stroke-width="0.7"/>
<path d="M364.4,156.5 h-1.5 M364.4,139.3 h-1.5 M364.4,122.1 h-1.5 M364.4,104.9 h-1.5 M364.4,87.7 h-1.5 M364.4,70.5 h-1.5 " stroke="#555" stroke-width="0.7"/>
<text x="364.4" y="163.6" font-size="4.30" text-anchor="middle" font-weight="normal" fill="#333" stroke="#333" stroke-width="0.13"  transform="rotate(0.1 364.4 163.6)">400</text>
<text x="389.0" y="163.6" font-size="4.30" text-anchor="middle" font-weight="normal" fill="#333" stroke="#333" stroke-width="0.13"  transform="rotate(0.1 389.0 163.6)">500</text>
<text x="413.7" y="163.6" font-size="4.30" text-anchor="middle" font-weight="normal" fill="#333" stroke="#333" stroke-width="0.13"  transform="rotate(0.1 413.7 163.6)">600</text>
<text x="438.3" y="163.6" font-size="4.30" text-anchor="middle" font-weight="normal" fill="#333" stroke="#333" stroke-width="0.13"  transform="rotate(0.1 438.3 163.6)">700</text>
<text x="463.0" y="163.6" font-size="4.30" text-anchor="middle" font-weight="normal" fill="#333" stroke="#333" stroke-width="0.13"  transform="rotate(0.1 463.0 163.6)">800</text>
<text x="362.2" y="158.0" font-size="4.30" text-anchor="end" font-weight="normal" fill="#333" stroke="#333" stroke-width="0.13"  transform="rotate(0.1 362.2 158.0)">65</text>
<text x="362.2" y="140.8" font-size="4.30" text-anchor="end" font-weight="normal" fill="#333" stroke="#333" stroke-width="0.13"  transform="rotate(0.1 362.2 140.8)">70</text>
<text x="362.2" y="123.6" font-size="4.30" text-anchor="end" font-weight="normal" fill="#333" stroke="#333" stroke-width="0.13"  transform="rotate(0.1 362.2 123.6)">75</text>
<text x="362.2" y="106.4" font-size="4.30" text-anchor="end" font-weight="normal" fill="#333" stroke="#333" stroke-width="0.13"  transform="rotate(0.1 362.2 106.4)">80</text>
<text x="362.2" y="89.2" font-size="4.30" text-anchor="end" font-weight="normal" fill="#333" stroke="#333" stroke-width="0.13"  transform="rotate(0.1 362.2 89.2)">85</text>
<text x="362.2" y="72.0" font-size="4.30" text-anchor="end" font-weight="normal" fill="#333" stroke="#333" stroke-width="0.13"  transform="rotate(0.1 362.2 72.0)">90</text>
<text x="417.6" y="169.0" font-size="4.20" text-anchor="middle" font-weight="bold" fill="#333" stroke="#333" stroke-width="0.13"  transform="rotate(0.1 417.6 169.0)">Wavelength (nm)</text>
<text transform="translate(354.0,114.7) rotate(-89.9)" font-size="4.4" text-anchor="middle" fill="#333">Transmittance (%T)</text>
<path d="M371.0,155.6 C371.2,154.2 371.9,149.3 372.5,147.0 C373.1,144.7 373.8,142.7 374.5,141.5 C375.2,140.3 375.9,139.8 376.8,139.8 C377.7,139.8 378.7,140.8 380.0,141.5 C381.3,142.2 383.1,144.3 384.6,144.1 C386.1,143.8 387.3,143.3 389.0,140.0 C390.7,136.7 393.2,129.0 395.0,124.0 C396.8,119.0 398.2,113.0 400.0,110.0 C401.8,107.0 403.7,106.6 405.5,106.2 C407.3,105.8 409.1,106.4 411.0,107.5 C412.9,108.6 414.9,111.7 417.0,113.0 C419.1,114.3 421.2,115.4 423.4,115.4 C425.6,115.4 427.6,115.1 430.0,113.0 C432.4,110.9 435.0,107.5 438.0,103.0 C441.0,98.5 444.7,91.0 448.0,86.0 C451.3,81.0 454.9,76.0 458.0,73.0 C461.1,70.0 463.8,68.9 466.5,68.0 C469.2,67.1 472.8,67.6 474.0,67.5" fill="none" stroke="#222" stroke-width="1.1" stroke-linejoin="round" stroke-linecap="round" />
<path d="M371.0,150.0 C372.0,148.3 373.6,144.6 376.8,139.8 C380.0,135.0 385.2,126.6 390.0,121.0 C394.8,115.4 399.7,111.4 405.5,106.2 C411.3,101.0 417.8,95.2 425.0,90.0 C432.2,84.8 440.7,79.2 449.0,75.0 C457.3,70.8 470.7,66.2 475.0,64.5" fill="none" stroke="#6a6aee" stroke-width="0.8" stroke-linejoin="round" stroke-linecap="round" stroke-dasharray="2.2,1.6"/>
<path d="M376.0,150.0 C377.4,149.0 380.6,147.6 384.6,144.1 C388.6,140.6 393.5,133.8 400.0,129.0 C406.5,124.2 415.1,120.1 423.4,115.4 C431.7,110.7 441.4,104.8 450.0,101.0 C458.6,97.2 470.8,93.8 475.0,92.4" fill="none" stroke="#6a6aee" stroke-width="0.8" stroke-linejoin="round" stroke-linecap="round" stroke-dasharray="2.2,1.6"/>
<rect x="29.3" y="201.5" width="207.1" height="169.6" fill="none" stroke="#656565" stroke-width="1.5"/>
<path d="M29.3,371.1 v3.0 M132.8,371.1 v3.0 M236.4,371.1 v3.0 " stroke="#7a7a7a" stroke-width="1.0"/>
<path d="M81.1,371.1 v1.8 M184.6,371.1 v1.8 " stroke="#7a7a7a" stroke-width="1.0"/>
<path d="M29.3,371.1 h-3.0 M29.3,328.7 h-3.0 M29.3,286.3 h-3.0 M29.3,243.9 h-3.0 M29.3,201.5 h-3.0 " stroke="#7a7a7a" stroke-width="1.0"/>
<path d="M29.3,349.9 h-1.8 M29.3,307.5 h-1.8 M29.3,265.1 h-1.8 M29.3,222.7 h-1.8 " stroke="#7a7a7a" stroke-width="1.0"/>
<text x="29.3" y="382.2" font-size="7.60" text-anchor="middle" font-weight="normal" fill="#111" stroke="#111" stroke-width="0.13"  transform="translate(29.30 382.20) rotate(0.1) scale(0.860 1) translate(-29.30 -382.20)">2.5</text>
<text x="132.8" y="382.2" font-size="7.60" text-anchor="middle" font-weight="normal" fill="#111" stroke="#111" stroke-width="0.13"  transform="translate(132.85 382.20) rotate(0.1) scale(0.860 1) translate(-132.85 -382.20)">3.0</text>
<text x="236.4" y="382.2" font-size="7.60" text-anchor="middle" font-weight="normal" fill="#111" stroke="#111" stroke-width="0.13"  transform="translate(236.40 382.20) rotate(0.1) scale(0.860 1) translate(-236.40 -382.20)">3.5</text>
<text x="24.6" y="373.7" font-size="7.60" text-anchor="end" font-weight="normal" fill="#111" stroke="#111" stroke-width="0.13"  transform="translate(24.60 373.70) rotate(0.1) scale(0.860 1) translate(-24.60 -373.70)">0</text>
<text x="24.6" y="331.3" font-size="7.60" text-anchor="end" font-weight="normal" fill="#111" stroke="#111" stroke-width="0.13"  transform="translate(24.60 331.30) rotate(0.1) scale(0.860 1) translate(-24.60 -331.30)">2</text>
<text x="24.6" y="288.9" font-size="7.60" text-anchor="end" font-weight="normal" fill="#111" stroke="#111" stroke-width="0.13"  transform="translate(24.60 288.90) rotate(0.1) scale(0.860 1) translate(-24.60 -288.90)">4</text>
<text x="24.6" y="246.5" font-size="7.60" text-anchor="end" font-weight="normal" fill="#111" stroke="#111" stroke-width="0.13"  transform="translate(24.60 246.50) rotate(0.1) scale(0.860 1) translate(-24.60 -246.50)">6</text>
<text x="24.6" y="204.1" font-size="7.60" text-anchor="end" font-weight="normal" fill="#111" stroke="#111" stroke-width="0.13"  transform="translate(24.60 204.10) rotate(0.1) scale(0.860 1) translate(-24.60 -204.10)">8</text>
<text x="136.8" y="398.6" font-size="8.00" text-anchor="middle" font-weight="normal" fill="#111" stroke="#111" stroke-width="0.08"  transform="rotate(0.1 136.8 398.6)">h&#965; (eV)</text>
<text transform="translate(14.3,287.5) rotate(-89.9)" font-size="8.2" text-anchor="middle" fill="#111">(&#945;h&#965;)<tspan font-size="5" dy="-3">2</tspan><tspan dy="3"> (10</tspan><tspan font-size="5" dy="-3">8</tspan><tspan dy="3">eVcm</tspan><tspan font-size="5" dy="-3">-1</tspan><tspan dy="3">)</tspan><tspan font-size="5" dy="-3">2</tspan></text>
<text x="32.0" y="211.8" font-size="7.50" text-anchor="start" font-weight="normal" fill="#111" stroke="#111" stroke-width="0.13"  transform="rotate(0.1 32.0 211.8)">c)</text>
<path d="M29.3,369.3 C41.1,369.3 79.9,369.2 100.0,369.2 C120.1,369.1 139.0,369.1 150.0,369.0 C161.0,368.9 162.2,368.8 166.0,368.5 C169.8,368.2 170.9,367.9 173.0,367.4 C175.1,366.8 176.9,366.3 178.7,365.2 C180.5,364.1 182.1,363.1 183.6,360.9 C185.1,358.7 186.2,356.3 187.4,352.2 C188.6,348.1 189.8,340.7 190.5,336.0 C191.2,331.3 191.1,329.1 191.7,324.2 C192.3,319.3 193.4,313.6 194.2,306.8 C194.9,300.0 195.6,291.3 196.2,283.2 C196.8,275.1 197.1,268.0 197.6,258.0 C198.1,248.0 198.8,232.7 199.3,223.3 C199.8,213.9 200.4,205.1 200.6,201.5" fill="none" stroke="#ff40ff" stroke-width="0.7" stroke-linejoin="round" stroke-linecap="round" stroke-dasharray="1.2,0.9"/>
<path d="M29.3,369.3 H150" stroke="#ff9cff" stroke-width="3.0"/>
<path d="M31.0,367.1 L33.0,370.6 L29.0,370.6 Z" fill="#fff" stroke="#ff70ff" stroke-width="0.6"/>
<path d="M33.6,367.1 L35.6,370.6 L31.6,370.6 Z" fill="#fff" stroke="#ff70ff" stroke-width="0.6"/>
<path d="M36.2,367.1 L38.2,370.6 L34.2,370.6 Z" fill="#fff" stroke="#ff70ff" stroke-width="0.6"/>
<path d="M38.8,367.1 L40.8,370.6 L36.8,370.6 Z" fill="#fff" stroke="#ff70ff" stroke-width="0.6"/>
<path d="M41.4,367.1 L43.4,370.5 L39.4,370.5 Z" fill="#fff" stroke="#ff70ff" stroke-width="0.6"/>
<path d="M44.0,367.1 L46.0,370.5 L42.0,370.5 Z" fill="#fff" stroke="#ff70ff" stroke-width="0.6"/>
<path d="M46.6,367.1 L48.6,370.5 L44.6,370.5 Z" fill="#fff" stroke="#ff70ff" stroke-width="0.6"/>
<path d="M49.2,367.1 L51.2,370.5 L47.2,370.5 Z" fill="#fff" stroke="#ff70ff" stroke-width="0.6"/>
<path d="M51.8,367.1 L53.8,370.5 L49.8,370.5 Z" fill="#fff" stroke="#ff70ff" stroke-width="0.6"/>
<path d="M54.4,367.1 L56.4,370.5 L52.4,370.5 Z" fill="#fff" stroke="#ff70ff" stroke-width="0.6"/>
<path d="M57.0,367.1 L59.0,370.5 L55.0,370.5 Z" fill="#fff" stroke="#ff70ff" stroke-width="0.6"/>
<path d="M59.6,367.1 L61.6,370.5 L57.6,370.5 Z" fill="#fff" stroke="#ff70ff" stroke-width="0.6"/>
<path d="M62.2,367.0 L64.2,370.5 L60.2,370.5 Z" fill="#fff" stroke="#ff70ff" stroke-width="0.6"/>
<path d="M64.8,367.0 L66.8,370.5 L62.8,370.5 Z" fill="#fff" stroke="#ff70ff" stroke-width="0.6"/>
<path d="M67.4,367.0 L69.4,370.5 L65.4,370.5 Z" fill="#fff" stroke="#ff70ff" stroke-width="0.6"/>
<path d="M70.0,367.0 L72.0,370.5 L68.0,370.5 Z" fill="#fff" stroke="#ff70ff" stroke-width="0.6"/>
<path d="M72.6,367.0 L74.6,370.5 L70.6,370.5 Z" fill="#fff" stroke="#ff70ff" stroke-width="0.6"/>
<path d="M75.2,367.0 L77.2,370.5 L73.2,370.5 Z" fill="#fff" stroke="#ff70ff" stroke-width="0.6"/>
<path d="M77.8,367.0 L79.8,370.5 L75.8,370.5 Z" fill="#fff" stroke="#ff70ff" stroke-width="0.6"/>
<path d="M80.4,367.0 L82.4,370.5 L78.4,370.5 Z" fill="#fff" stroke="#ff70ff" stroke-width="0.6"/>
<path d="M83.0,367.0 L85.0,370.5 L81.0,370.5 Z" fill="#fff" stroke="#ff70ff" stroke-width="0.6"/>
<path d="M85.6,367.0 L87.6,370.5 L83.6,370.5 Z" fill="#fff" stroke="#ff70ff" stroke-width="0.6"/>
<path d="M88.2,367.0 L90.2,370.5 L86.2,370.5 Z" fill="#fff" stroke="#ff70ff" stroke-width="0.6"/>
<path d="M90.8,367.0 L92.8,370.5 L88.8,370.5 Z" fill="#fff" stroke="#ff70ff" stroke-width="0.6"/>
<path d="M93.4,367.0 L95.4,370.5 L91.4,370.5 Z" fill="#fff" stroke="#ff70ff" stroke-width="0.6"/>
<path d="M96.0,367.0 L98.0,370.5 L94.0,370.5 Z" fill="#fff" stroke="#ff70ff" stroke-width="0.6"/>
<path d="M98.6,367.0 L100.6,370.5 L96.6,370.5 Z" fill="#fff" stroke="#ff70ff" stroke-width="0.6"/>
<path d="M101.2,367.0 L103.2,370.4 L99.2,370.4 Z" fill="#fff" stroke="#ff70ff" stroke-width="0.6"/>
<path d="M103.8,367.0 L105.8,370.4 L101.8,370.4 Z" fill="#fff" stroke="#ff70ff" stroke-width="0.6"/>
<path d="M106.4,367.0 L108.4,370.4 L104.4,370.4 Z" fill="#fff" stroke="#ff70ff" stroke-width="0.6"/>
<path d="M109.0,367.0 L111.0,370.4 L107.0,370.4 Z" fill="#fff" stroke="#ff70ff" stroke-width="0.6"/>
<path d="M111.6,367.0 L113.6,370.4 L109.6,370.4 Z" fill="#fff" stroke="#ff70ff" stroke-width="0.6"/>
<path d="M114.2,367.0 L116.2,370.4 L112.2,370.4 Z" fill="#fff" stroke="#ff70ff" stroke-width="0.6"/>
<path d="M116.8,367.0 L118.8,370.4 L114.8,370.4 Z" fill="#fff" stroke="#ff70ff" stroke-width="0.6"/>
<path d="M119.4,367.0 L121.4,370.4 L117.4,370.4 Z" fill="#fff" stroke="#ff70ff" stroke-width="0.6"/>
<path d="M122.0,366.9 L124.0,370.4 L120.0,370.4 Z" fill="#fff" stroke="#ff70ff" stroke-width="0.6"/>
<path d="M124.6,366.9 L126.6,370.4 L122.6,370.4 Z" fill="#fff" stroke="#ff70ff" stroke-width="0.6"/>
<path d="M127.2,366.9 L129.2,370.4 L125.2,370.4 Z" fill="#fff" stroke="#ff70ff" stroke-width="0.6"/>
<path d="M129.8,366.9 L131.8,370.4 L127.8,370.4 Z" fill="#fff" stroke="#ff70ff" stroke-width="0.6"/>
<path d="M132.4,366.9 L134.4,370.4 L130.4,370.4 Z" fill="#fff" stroke="#ff70ff" stroke-width="0.6"/>
<path d="M135.0,366.9 L137.0,370.4 L133.0,370.4 Z" fill="#fff" stroke="#ff70ff" stroke-width="0.6"/>
<path d="M137.6,366.9 L139.6,370.4 L135.6,370.4 Z" fill="#fff" stroke="#ff70ff" stroke-width="0.6"/>
<path d="M140.2,366.9 L142.2,370.4 L138.2,370.4 Z" fill="#fff" stroke="#ff70ff" stroke-width="0.6"/>
<path d="M142.8,366.9 L144.8,370.4 L140.8,370.4 Z" fill="#fff" stroke="#ff70ff" stroke-width="0.6"/>
<path d="M145.4,366.9 L147.4,370.4 L143.4,370.4 Z" fill="#fff" stroke="#ff70ff" stroke-width="0.6"/>
<path d="M148.0,366.9 L150.0,370.4 L146.0,370.4 Z" fill="#fff" stroke="#ff70ff" stroke-width="0.6"/>
<path d="M150.6,366.9 L152.6,370.3 L148.6,370.3 Z" fill="#fff" stroke="#ff70ff" stroke-width="0.6"/>
<path d="M153.2,366.8 L155.2,370.3 L151.2,370.3 Z" fill="#fff" stroke="#ff70ff" stroke-width="0.6"/>
<path d="M155.8,366.7 L157.8,370.2 L153.8,370.2 Z" fill="#fff" stroke="#ff70ff" stroke-width="0.6"/>
<path d="M158.4,366.6 L160.4,370.1 L156.4,370.1 Z" fill="#fff" stroke="#ff70ff" stroke-width="0.6"/>
<path d="M161.0,366.6 L163.0,370.0 L159.0,370.0 Z" fill="#fff" stroke="#ff70ff" stroke-width="0.6"/>
<path d="M163.6,366.5 L165.6,369.9 L161.6,369.9 Z" fill="#fff" stroke="#ff70ff" stroke-width="0.6"/>
<path d="M170.0,365.7 L172.2,369.5 L167.8,369.5 Z" fill="#fff" stroke="#ff10ff" stroke-width="0.7"/>
<path d="M173.0,365.1 L175.2,368.9 L170.8,368.9 Z" fill="#fff" stroke="#ff10ff" stroke-width="0.7"/>
<path d="M176.0,364.2 L178.2,368.0 L173.8,368.0 Z" fill="#fff" stroke="#ff10ff" stroke-width="0.7"/>
<path d="M178.7,362.9 L180.9,366.7 L176.5,366.7 Z" fill="#fff" stroke="#ff10ff" stroke-width="0.7"/>
<path d="M181.1,361.1 L183.3,364.9 L178.9,364.9 Z" fill="#fff" stroke="#ff10ff" stroke-width="0.7"/>
<path d="M183.6,358.6 L185.8,362.4 L181.4,362.4 Z" fill="#fff" stroke="#ff10ff" stroke-width="0.7"/>
<path d="M185.5,354.8 L187.7,358.6 L183.3,358.6 Z" fill="#fff" stroke="#ff10ff" stroke-width="0.7"/>
<path d="M187.4,349.9 L189.6,353.7 L185.2,353.7 Z" fill="#fff" stroke="#ff10ff" stroke-width="0.7"/>
<path d="M188.6,344.3 L190.8,348.1 L186.4,348.1 Z" fill="#fff" stroke="#ff10ff" stroke-width="0.7"/>
<path d="M190.5,333.7 L192.7,337.5 L188.3,337.5 Z" fill="#fff" stroke="#ff10ff" stroke-width="0.7"/>
<path d="M191.7,321.9 L193.9,325.7 L189.5,325.7 Z" fill="#fff" stroke="#ff10ff" stroke-width="0.7"/>
<path d="M194.2,304.5 L196.4,308.3 L192.0,308.3 Z" fill="#fff" stroke="#ff10ff" stroke-width="0.7"/>
<path d="M196.2,280.9 L198.4,284.7 L194.0,284.7 Z" fill="#fff" stroke="#ff10ff" stroke-width="0.7"/>
<path d="M197.6,255.7 L199.8,259.5 L195.4,259.5 Z" fill="#fff" stroke="#ff10ff" stroke-width="0.7"/>
<path d="M199.3,221.0 L201.5,224.8 L197.1,224.8 Z" fill="#fff" stroke="#ff10ff" stroke-width="0.7"/>
<path d="M120,370.6 H170" stroke="#6aa8a8" stroke-width="1.0"/>
<path d="M150.0,370.8 L178.0,370.0 L186.0,367.0 L191.0,362.0 L195.0,354.0 L198.0,345.0 L200.5,334.0 L202.5,322.0 L204.0,309.0 L205.3,296.9 L206.9,282.0 L209.1,267.0 L210.7,251.3 L212.4,238.9 L214.5,221.2 L216.0,202.0" fill="none" stroke="#888" stroke-width="0.5" />
<path d="M150.0,370.8 L178.0,370.0 L187.0,367.5 L192.0,362.0 L196.0,355.0 L199.0,347.0 L201.5,338.0 L203.5,327.0 L205.5,315.0 L207.5,303.0 L209.1,290.7 L210.7,277.0 L212.9,271.2 L216.5,239.7 L222.8,219.0 L224.0,202.0" fill="none" stroke="#ff5555" stroke-width="0.5" />
<path d="M150.0,370.8 L178.0,370.0 L187.0,367.5 L192.0,362.0 L196.0,355.0 L199.0,346.0 L201.5,336.0 L203.5,324.0 L205.0,311.0 L206.6,297.7 L209.6,286.9 L211.6,271.2 L214.0,254.6 L216.2,241.4 L219.0,221.2 L221.5,202.0" fill="none" stroke="#7777ff" stroke-width="0.5" />
<path d="M150.0,370.8 L170.0,370.6 L183.6,369.5 L190.0,364.0 L194.2,357.8 L196.0,353.4 L197.9,347.2 L199.8,339.7 L201.6,330.4 L203.5,320.5 L204.7,309.3 L206.9,295.7 L209.1,281.1 L210.7,266.2 L212.9,253.8 L214.9,236.8 L216.5,204.1" fill="none" stroke="#3a9a9a" stroke-width="0.5" />
<rect x="196.3" y="343.3" width="3.4" height="3.4" fill="#fff" stroke="#666" stroke-width="0.6"/>
<rect x="198.8" y="332.3" width="3.4" height="3.4" fill="#fff" stroke="#666" stroke-width="0.6"/>
<rect x="200.8" y="320.3" width="3.4" height="3.4" fill="#fff" stroke="#666" stroke-width="0.6"/>
<rect x="202.3" y="307.3" width="3.4" height="3.4" fill="#fff" stroke="#666" stroke-width="0.6"/>
<rect x="203.6" y="295.2" width="3.4" height="3.4" fill="#fff" stroke="#666" stroke-width="0.6"/>
<rect x="205.2" y="280.3" width="3.4" height="3.4" fill="#fff" stroke="#666" stroke-width="0.6"/>
<rect x="207.4" y="265.3" width="3.4" height="3.4" fill="#fff" stroke="#666" stroke-width="0.6"/>
<rect x="209.0" y="249.6" width="3.4" height="3.4" fill="#fff" stroke="#666" stroke-width="0.6"/>
<rect x="210.7" y="237.2" width="3.4" height="3.4" fill="#fff" stroke="#666" stroke-width="0.6"/>
<rect x="212.8" y="219.5" width="3.4" height="3.4" fill="#fff" stroke="#666" stroke-width="0.6"/>
<rect x="200.0" y="336.5" width="3.0" height="3.0" fill="#ff1010" stroke="#ff1010" stroke-width="0.6"/>
<rect x="202.0" y="325.5" width="3.0" height="3.0" fill="#ff1010" stroke="#ff1010" stroke-width="0.6"/>
<rect x="204.0" y="313.5" width="3.0" height="3.0" fill="#ff1010" stroke="#ff1010" stroke-width="0.6"/>
<rect x="206.0" y="301.5" width="3.0" height="3.0" fill="#ff1010" stroke="#ff1010" stroke-width="0.6"/>
<rect x="207.6" y="289.2" width="3.0" height="3.0" fill="#ff1010" stroke="#ff1010" stroke-width="0.6"/>
<rect x="209.2" y="275.5" width="3.0" height="3.0" fill="#ff1010" stroke="#ff1010" stroke-width="0.6"/>
<rect x="211.4" y="269.7" width="3.0" height="3.0" fill="#ff1010" stroke="#ff1010" stroke-width="0.6"/>
<rect x="215.0" y="238.2" width="3.0" height="3.0" fill="#ff1010" stroke="#ff1010" stroke-width="0.6"/>
<rect x="221.3" y="217.5" width="3.0" height="3.0" fill="#ff1010" stroke="#ff1010" stroke-width="0.6"/>
<circle cx="199.0" cy="346.0" r="1.9" fill="#fff" stroke="#3030ff" stroke-width="0.7"/>
<circle cx="201.5" cy="336.0" r="1.9" fill="#fff" stroke="#3030ff" stroke-width="0.7"/>
<circle cx="203.5" cy="324.0" r="1.9" fill="#fff" stroke="#3030ff" stroke-width="0.7"/>
<circle cx="205.0" cy="311.0" r="1.9" fill="#fff" stroke="#3030ff" stroke-width="0.7"/>
<circle cx="206.6" cy="297.7" r="1.9" fill="#fff" stroke="#3030ff" stroke-width="0.7"/>
<circle cx="209.6" cy="286.9" r="1.9" fill="#fff" stroke="#3030ff" stroke-width="0.7"/>
<circle cx="211.6" cy="271.2" r="1.9" fill="#fff" stroke="#3030ff" stroke-width="0.7"/>
<circle cx="214.0" cy="254.6" r="1.9" fill="#fff" stroke="#3030ff" stroke-width="0.7"/>
<circle cx="216.2" cy="241.4" r="1.9" fill="#fff" stroke="#3030ff" stroke-width="0.7"/>
<circle cx="219.0" cy="221.2" r="1.9" fill="#fff" stroke="#3030ff" stroke-width="0.7"/>
<circle cx="174.0" cy="370.4" r="1.9" fill="#0a8585" stroke="#0a8585" stroke-width="0.3"/>
<circle cx="176.2" cy="370.2" r="1.9" fill="#0a8585" stroke="#0a8585" stroke-width="0.3"/>
<circle cx="178.4" cy="370.0" r="1.9" fill="#0a8585" stroke="#0a8585" stroke-width="0.3"/>
<circle cx="180.6" cy="369.8" r="1.9" fill="#0a8585" stroke="#0a8585" stroke-width="0.3"/>
<circle cx="182.8" cy="369.6" r="1.9" fill="#0a8585" stroke="#0a8585" stroke-width="0.3"/>
<circle cx="184.6" cy="368.6" r="1.9" fill="#0a8585" stroke="#0a8585" stroke-width="0.3"/>
<circle cx="186.3" cy="367.2" r="1.9" fill="#0a8585" stroke="#0a8585" stroke-width="0.3"/>
<circle cx="188.0" cy="365.7" r="1.9" fill="#0a8585" stroke="#0a8585" stroke-width="0.3"/>
<circle cx="189.6" cy="364.3" r="1.9" fill="#0a8585" stroke="#0a8585" stroke-width="0.3"/>
<circle cx="191.0" cy="362.6" r="1.9" fill="#0a8585" stroke="#0a8585" stroke-width="0.3"/>
<circle cx="192.2" cy="360.8" r="1.9" fill="#0a8585" stroke="#0a8585" stroke-width="0.3"/>
<circle cx="193.4" cy="358.9" r="1.9" fill="#0a8585" stroke="#0a8585" stroke-width="0.3"/>
<circle cx="196.0" cy="353.4" r="2.2" fill="#0a8585" stroke="#0a8585" stroke-width="0.3"/>
<circle cx="197.9" cy="347.2" r="2.2" fill="#0a8585" stroke="#0a8585" stroke-width="0.3"/>
<circle cx="199.8" cy="339.7" r="2.2" fill="#0a8585" stroke="#0a8585" stroke-width="0.3"/>
<circle cx="201.6" cy="330.4" r="2.2" fill="#0a8585" stroke="#0a8585" stroke-width="0.3"/>
<circle cx="203.5" cy="320.5" r="2.2" fill="#0a8585" stroke="#0a8585" stroke-width="0.3"/>
<circle cx="204.7" cy="309.3" r="2.2" fill="#0a8585" stroke="#0a8585" stroke-width="0.3"/>
<circle cx="206.9" cy="295.7" r="2.2" fill="#0a8585" stroke="#0a8585" stroke-width="0.3"/>
<circle cx="209.1" cy="281.1" r="2.2" fill="#0a8585" stroke="#0a8585" stroke-width="0.3"/>
<circle cx="210.7" cy="266.2" r="2.2" fill="#0a8585" stroke="#0a8585" stroke-width="0.3"/>
<circle cx="212.9" cy="253.8" r="2.2" fill="#0a8585" stroke="#0a8585" stroke-width="0.3"/>
<circle cx="214.9" cy="236.8" r="2.2" fill="#0a8585" stroke="#0a8585" stroke-width="0.3"/>
<path d="M216.5,204 L224,202" stroke="#0a8585" stroke-width="3.6" stroke-linecap="round"/>
<path d="M192.1,371 L200.6,201.5" stroke="#111" stroke-width="0.8" stroke-dasharray="1,1.1"/>
<path d="M197.1,371 L207,296" stroke="#111" stroke-width="0.8" stroke-dasharray="1,1.1"/>
<path d="M192.1,370.5 v-6" stroke="#000" stroke-width="0.7"/>
<path d="M192.1,371.5 l-1.4,-4.2 l1.4,0.9 l1.4,-0.9 Z" fill="#000"/>
<path d="M197.1,370.5 v-6" stroke="#000" stroke-width="0.7"/>
<path d="M197.1,371.5 l-1.4,-4.2 l1.4,0.9 l1.4,-0.9 Z" fill="#000"/>
<text x="187.0" y="379.6" font-size="5.50" text-anchor="middle" font-weight="bold" fill="#111" stroke="#111" stroke-width="0.13"  transform="rotate(0.1 187.0 379.6)">3.29</text>
<text x="201.7" y="379.6" font-size="5.50" text-anchor="middle" font-weight="bold" fill="#111" stroke="#111" stroke-width="0.13"  transform="rotate(0.1 201.7 379.6)">3.31</text>
<path d="M51.6,209.7 H66" stroke="#ff66ff" stroke-width="0.8"/>
<path d="M58.8,207.6 L61.0,211.4 L56.6,211.4 Z" fill="#fff" stroke="#ff10ff" stroke-width="0.7"/>
<text x="67.0" y="212.3" font-size="7.00" text-anchor="start" font-weight="normal" fill="#111" stroke="#111" stroke-width="0.13"  transform="rotate(0.1 67.0 212.3)">ZnO</text>
<text x="47.5" y="222.6" font-size="7.00" text-anchor="start" font-weight="normal" fill="#111" stroke="#111" stroke-width="0.13"  transform="rotate(0.1 47.5 222.6)">Zn<tspan font-size="5.2" dy="1.5">0.99</tspan><tspan dy="-1.5">Ga</tspan><tspan font-size="5.2" dy="1.5">0.01</tspan><tspan dy="-1.5">O:Zn</tspan><tspan font-size="5.0" dy="-3.0">2+</tspan><tspan font-size="5.0" dx="-5.6" dy="5.0">y</tspan></text>
<text x="47.5" y="232.8" font-size="7.20" text-anchor="start" font-weight="normal" fill="#111" stroke="#111" stroke-width="0.13"  transform="rotate(0.1 47.5 232.8)">y(at%) =</text>
<path d="M75.2,230.4 H88.5" stroke="#555" stroke-width="0.6" opacity="0.8"/>
<rect x="80.3" y="228.7" width="3.4" height="3.4" fill="#fff" stroke="#444" stroke-width="0.6"/>
<text x="91.2" y="232.8" font-size="7.00" text-anchor="start" font-weight="normal" fill="#111" stroke="#111" stroke-width="0.13"  transform="rotate(0.1 91.2 232.8)">0</text>
<path d="M97.8,230.4 H111.1" stroke="#ff1010" stroke-width="0.6" opacity="0.8"/>
<rect x="103.4" y="228.8" width="3.2" height="3.2" fill="#ff1010" stroke="#ff1010" stroke-width="0.6"/>
<text x="114.1" y="232.8" font-size="7.00" text-anchor="start" font-weight="normal" fill="#111" stroke="#111" stroke-width="0.13"  transform="rotate(0.1 114.1 232.8)">0.5</text>
<path d="M125.4,230.4 H139.8" stroke="#3030ff" stroke-width="0.6" opacity="0.8"/>
<circle cx="132.6" cy="230.4" r="1.9" fill="#fff" stroke="#3030ff" stroke-width="0.7"/>
<text x="141.8" y="232.8" font-size="7.00" text-anchor="start" font-weight="normal" fill="#111" stroke="#111" stroke-width="0.13"  transform="rotate(0.1 141.8 232.8)">1.0</text>
<path d="M153.1,230.4 H167.5" stroke="#0a8585" stroke-width="0.6" opacity="0.8"/>
<circle cx="159.9" cy="230.4" r="2.0" fill="#0a8585" stroke="#0a8585" stroke-width="0.7"/>
<text x="169.5" y="232.8" font-size="7.00" text-anchor="start" font-weight="normal" fill="#111" stroke="#111" stroke-width="0.13"  transform="rotate(0.1 169.5 232.8)">1.5</text>
<rect x="54.8" y="250.1" width="111.7" height="91.2" fill="#fff" stroke="#707070" stroke-width="0.9"/>
<path d="M76.6,341.3 v1.5 M104.5,341.3 v1.5 M132.5,341.3 v1.5 M160.4,341.3 v1.5 " stroke="#555" stroke-width="0.7"/>
<path d="M62.6,341.3 v1.0 M90.6,341.3 v1.0 M118.5,341.3 v1.0 M146.4,341.3 v1.0 " stroke="#555" stroke-width="0.6"/>
<path d="M54.8,341.4 h-1.5 M54.8,324.8 h-1.5 M54.8,308.3 h-1.5 M54.8,291.7 h-1.5 M54.8,275.2 h-1.5 M54.8,258.6 h-1.5 " stroke="#555" stroke-width="0.7"/>
<text x="76.6" y="348.6" font-size="5.20" text-anchor="middle" font-weight="normal" fill="#333" stroke="#333" stroke-width="0.13"  transform="rotate(0.1 76.6 348.6)">3.26</text>
<text x="104.5" y="348.6" font-size="5.20" text-anchor="middle" font-weight="normal" fill="#333" stroke="#333" stroke-width="0.13"  transform="rotate(0.1 104.5 348.6)">3.28</text>
<text x="132.5" y="348.6" font-size="5.20" text-anchor="middle" font-weight="normal" fill="#333" stroke="#333" stroke-width="0.13"  transform="rotate(0.1 132.5 348.6)">3.30</text>
<text x="160.4" y="348.6" font-size="5.20" text-anchor="middle" font-weight="normal" fill="#333" stroke="#333" stroke-width="0.13"  transform="rotate(0.1 160.4 348.6)">3.32</text>
<text x="52.3" y="343.2" font-size="5.20" text-anchor="end" font-weight="normal" fill="#333" stroke="#333" stroke-width="0.13"  transform="rotate(0.1 52.3 343.2)">9.4</text>
<text x="52.3" y="326.6" font-size="5.20" text-anchor="end" font-weight="normal" fill="#333" stroke="#333" stroke-width="0.13"  transform="rotate(0.1 52.3 326.6)">9.6</text>
<text x="52.3" y="310.1" font-size="5.20" text-anchor="end" font-weight="normal" fill="#333" stroke="#333" stroke-width="0.13"  transform="rotate(0.1 52.3 310.1)">9.8</text>
<text x="52.3" y="293.5" font-size="5.20" text-anchor="end" font-weight="normal" fill="#333" stroke="#333" stroke-width="0.13"  transform="rotate(0.1 52.3 293.5)">10.0</text>
<text x="52.3" y="277.0" font-size="5.20" text-anchor="end" font-weight="normal" fill="#333" stroke="#333" stroke-width="0.13"  transform="rotate(0.1 52.3 277.0)">10.2</text>
<text x="52.3" y="260.4" font-size="5.20" text-anchor="end" font-weight="normal" fill="#333" stroke="#333" stroke-width="0.13"  transform="rotate(0.1 52.3 260.4)">10.4</text>
<text x="109.1" y="355.5" font-size="5.60" text-anchor="middle" font-weight="normal" fill="#333" stroke="#333" stroke-width="0.13"  transform="rotate(0.1 109.1 355.5)">h&#965; (eV)</text>
<text transform="translate(38.8,295.5) rotate(-89.9)" font-size="5.2" text-anchor="middle" fill="#333">ln (&#945;)</text>
<text x="57.9" y="261.5" font-size="7.00" text-anchor="start" font-weight="normal" fill="#111" stroke="#111" stroke-width="0.13"  transform="rotate(0.1 57.9 261.5)">&#916;E<tspan font-size="4.4" dy="1.5">u</tspan><tspan dy="-1.5"> ~ 68 meV</tspan></text>
<path d="M60.7,341.3 L161.3,254.4" stroke="#444" stroke-width="0.7"/>
<circle cx="67.9" cy="334.9" r="1.8" fill="none" stroke="#555" stroke-width="0.6"/>
<circle cx="79.7" cy="325.7" r="1.8" fill="none" stroke="#555" stroke-width="0.6"/>
<circle cx="92.0" cy="315.7" r="1.8" fill="none" stroke="#555" stroke-width="0.6"/>
<circle cx="103.8" cy="305.3" r="1.8" fill="none" stroke="#555" stroke-width="0.6"/>
<circle cx="116.2" cy="294.7" r="1.8" fill="none" stroke="#555" stroke-width="0.6"/>
<circle cx="128.2" cy="283.2" r="1.8" fill="none" stroke="#555" stroke-width="0.6"/>
<circle cx="140.6" cy="272.3" r="1.8" fill="none" stroke="#555" stroke-width="0.6"/>
<circle cx="153.0" cy="260.8" r="1.8" fill="none" stroke="#555" stroke-width="0.6"/>
<rect x="273.8" y="204.2" width="208.9" height="167.2" fill="none" stroke="#656565" stroke-width="1.5"/>
<path d="M273.8,371.4 v3.0 M378.2,371.4 v3.0 M482.7,371.4 v3.0 " stroke="#7a7a7a" stroke-width="1.0"/>
<path d="M326.0,371.4 v1.8 M430.5,371.4 v1.8 " stroke="#7a7a7a" stroke-width="1.0"/>
<path d="M273.8,371.4 h-3.0 M273.8,345.6 h-3.0 M273.8,319.7 h-3.0 M273.8,293.9 h-3.0 M273.8,268.0 h-3.0 M273.8,242.2 h-3.0 M273.8,216.4 h-3.0 " stroke="#7a7a7a" stroke-width="1.0"/>
<path d="M273.8,358.5 h-1.8 M273.8,332.6 h-1.8 M273.8,306.8 h-1.8 M273.8,281.0 h-1.8 M273.8,255.1 h-1.8 M273.8,229.3 h-1.8 " stroke="#7a7a7a" stroke-width="1.0"/>
<text x="273.8" y="382.2" font-size="7.60" text-anchor="middle" font-weight="normal" fill="#111" stroke="#111" stroke-width="0.13"  transform="translate(273.80 382.20) rotate(0.1) scale(0.860 1) translate(-273.80 -382.20)">2.5</text>
<text x="378.2" y="382.2" font-size="7.60" text-anchor="middle" font-weight="normal" fill="#111" stroke="#111" stroke-width="0.13"  transform="translate(378.25 382.20) rotate(0.1) scale(0.860 1) translate(-378.25 -382.20)">3.0</text>
<text x="482.7" y="382.2" font-size="7.60" text-anchor="middle" font-weight="normal" fill="#111" stroke="#111" stroke-width="0.13"  transform="translate(482.70 382.20) rotate(0.1) scale(0.860 1) translate(-482.70 -382.20)">3.5</text>
<text x="269.1" y="374.0" font-size="7.60" text-anchor="end" font-weight="normal" fill="#111" stroke="#111" stroke-width="0.13"  transform="translate(269.10 374.00) rotate(0.1) scale(0.860 1) translate(-269.10 -374.00)">0</text>
<text x="269.1" y="348.2" font-size="7.60" text-anchor="end" font-weight="normal" fill="#111" stroke="#111" stroke-width="0.13"  transform="translate(269.10 348.16) rotate(0.1) scale(0.860 1) translate(-269.10 -348.16)">2</text>
<text x="269.1" y="322.3" font-size="7.60" text-anchor="end" font-weight="normal" fill="#111" stroke="#111" stroke-width="0.13"  transform="translate(269.10 322.32) rotate(0.1) scale(0.860 1) translate(-269.10 -322.32)">4</text>
<text x="269.1" y="296.5" font-size="7.60" text-anchor="end" font-weight="normal" fill="#111" stroke="#111" stroke-width="0.13"  transform="translate(269.10 296.48) rotate(0.1) scale(0.860 1) translate(-269.10 -296.48)">6</text>
<text x="269.1" y="270.6" font-size="7.60" text-anchor="end" font-weight="normal" fill="#111" stroke="#111" stroke-width="0.13"  transform="translate(269.10 270.64) rotate(0.1) scale(0.860 1) translate(-269.10 -270.64)">8</text>
<text x="269.1" y="244.8" font-size="7.60" text-anchor="end" font-weight="normal" fill="#111" stroke="#111" stroke-width="0.13"  transform="translate(269.10 244.80) rotate(0.1) scale(0.860 1) translate(-269.10 -244.80)">10</text>
<text x="269.1" y="219.0" font-size="7.60" text-anchor="end" font-weight="normal" fill="#111" stroke="#111" stroke-width="0.13"  transform="translate(269.10 218.96) rotate(0.1) scale(0.860 1) translate(-269.10 -218.96)">12</text>
<text x="380.6" y="400.6" font-size="8.00" text-anchor="middle" font-weight="normal" fill="#111" stroke="#111" stroke-width="0.08"  transform="rotate(0.1 380.6 400.6)">h&#965; (eV)</text>
<text transform="translate(258.5,290) rotate(-89.9)" font-size="8.2" text-anchor="middle" fill="#111">(&#945;h&#965;)<tspan font-size="5" dy="-3">2</tspan><tspan dy="3"> (10</tspan><tspan font-size="5" dy="-3">8</tspan><tspan dy="3">eVcm</tspan><tspan font-size="5" dy="-3">-1</tspan><tspan dy="3">)</tspan><tspan font-size="5" dy="-3">2</tspan></text>
<text x="276.5" y="213.5" font-size="7.50" text-anchor="start" font-weight="normal" fill="#111" stroke="#111" stroke-width="0.13"  transform="rotate(0.1 276.5 213.5)">d)</text>
<path d="M273.8,369.3 C291.5,369.3 357.3,369.4 380.0,369.3 C402.7,369.2 403.8,369.0 410.0,368.8 C416.2,368.6 414.8,368.4 417.0,368.0 C419.2,367.6 421.2,367.9 423.4,366.6 C425.5,365.4 428.0,363.2 429.9,360.5 C431.8,357.8 433.4,353.1 434.5,350.3 C435.6,347.5 435.6,347.0 436.4,343.9 C437.2,340.8 438.4,335.9 439.1,331.8 C439.8,327.7 440.1,324.7 440.7,319.5 C441.3,314.3 442.0,307.7 442.5,300.7 C443.0,293.7 443.3,286.1 443.9,277.3 C444.5,268.6 445.3,258.6 446.0,248.2 C446.7,237.8 447.8,222.0 448.2,214.7 C448.6,207.4 448.4,205.9 448.5,204.2" fill="none" stroke="#ff40ff" stroke-width="0.7" stroke-linejoin="round" stroke-linecap="round" stroke-dasharray="1.2,0.9"/>
<path d="M273.8,369.3 H405" stroke="#ff9cff" stroke-width="3.0"/>
<path d="M276.0,367.1 L278.0,370.6 L274.0,370.6 Z" fill="#fff" stroke="#ff70ff" stroke-width="0.6"/>
<path d="M278.6,367.1 L280.6,370.6 L276.6,370.6 Z" fill="#fff" stroke="#ff70ff" stroke-width="0.6"/>
<path d="M281.2,367.1 L283.2,370.6 L279.2,370.6 Z" fill="#fff" stroke="#ff70ff" stroke-width="0.6"/>
<path d="M283.8,367.1 L285.8,370.6 L281.8,370.6 Z" fill="#fff" stroke="#ff70ff" stroke-width="0.6"/>
<path d="M286.4,367.1 L288.4,370.5 L284.4,370.5 Z" fill="#fff" stroke="#ff70ff" stroke-width="0.6"/>
<path d="M289.0,367.1 L291.0,370.5 L287.0,370.5 Z" fill="#fff" stroke="#ff70ff" stroke-width="0.6"/>
<path d="M291.6,367.1 L293.6,370.5 L289.6,370.5 Z" fill="#fff" stroke="#ff70ff" stroke-width="0.6"/>
<path d="M294.2,367.1 L296.2,370.5 L292.2,370.5 Z" fill="#fff" stroke="#ff70ff" stroke-width="0.6"/>
<path d="M296.8,367.1 L298.8,370.5 L294.8,370.5 Z" fill="#fff" stroke="#ff70ff" stroke-width="0.6"/>
<path d="M299.4,367.1 L301.4,370.5 L297.4,370.5 Z" fill="#fff" stroke="#ff70ff" stroke-width="0.6"/>
<path d="M302.0,367.1 L304.0,370.5 L300.0,370.5 Z" fill="#fff" stroke="#ff70ff" stroke-width="0.6"/>
<path d="M304.6,367.1 L306.6,370.5 L302.6,370.5 Z" fill="#fff" stroke="#ff70ff" stroke-width="0.6"/>
<path d="M307.2,367.1 L309.2,370.5 L305.2,370.5 Z" fill="#fff" stroke="#ff70ff" stroke-width="0.6"/>
<path d="M309.8,367.0 L311.8,370.5 L307.8,370.5 Z" fill="#fff" stroke="#ff70ff" stroke-width="0.6"/>
<path d="M312.4,367.0 L314.4,370.5 L310.4,370.5 Z" fill="#fff" stroke="#ff70ff" stroke-width="0.6"/>
<path d="M315.0,367.0 L317.0,370.5 L313.0,370.5 Z" fill="#fff" stroke="#ff70ff" stroke-width="0.6"/>
<path d="M317.6,367.0 L319.6,370.5 L315.6,370.5 Z" fill="#fff" stroke="#ff70ff" stroke-width="0.6"/>
<path d="M320.2,367.0 L322.2,370.5 L318.2,370.5 Z" fill="#fff" stroke="#ff70ff" stroke-width="0.6"/>
<path d="M322.8,367.0 L324.8,370.5 L320.8,370.5 Z" fill="#fff" stroke="#ff70ff" stroke-width="0.6"/>
<path d="M325.4,367.0 L327.4,370.5 L323.4,370.5 Z" fill="#fff" stroke="#ff70ff" stroke-width="0.6"/>
<path d="M328.0,367.0 L330.0,370.5 L326.0,370.5 Z" fill="#fff" stroke="#ff70ff" stroke-width="0.6"/>
<path d="M330.6,367.0 L332.6,370.5 L328.6,370.5 Z" fill="#fff" stroke="#ff70ff" stroke-width="0.6"/>
<path d="M333.2,367.0 L335.2,370.5 L331.2,370.5 Z" fill="#fff" stroke="#ff70ff" stroke-width="0.6"/>
<path d="M335.8,367.0 L337.8,370.5 L333.8,370.5 Z" fill="#fff" stroke="#ff70ff" stroke-width="0.6"/>
<path d="M338.4,367.0 L340.4,370.5 L336.4,370.5 Z" fill="#fff" stroke="#ff70ff" stroke-width="0.6"/>
<path d="M341.0,367.0 L343.0,370.5 L339.0,370.5 Z" fill="#fff" stroke="#ff70ff" stroke-width="0.6"/>
<path d="M343.6,367.0 L345.6,370.5 L341.6,370.5 Z" fill="#fff" stroke="#ff70ff" stroke-width="0.6"/>
<path d="M346.2,367.0 L348.2,370.5 L344.2,370.5 Z" fill="#fff" stroke="#ff70ff" stroke-width="0.6"/>
<path d="M348.8,367.0 L350.8,370.5 L346.8,370.5 Z" fill="#fff" stroke="#ff70ff" stroke-width="0.6"/>
<path d="M351.4,367.0 L353.4,370.4 L349.4,370.4 Z" fill="#fff" stroke="#ff70ff" stroke-width="0.6"/>
<path d="M354.0,367.0 L356.0,370.4 L352.0,370.4 Z" fill="#fff" stroke="#ff70ff" stroke-width="0.6"/>
<path d="M356.6,367.0 L358.6,370.4 L354.6,370.4 Z" fill="#fff" stroke="#ff70ff" stroke-width="0.6"/>
<path d="M359.2,367.0 L361.2,370.4 L357.2,370.4 Z" fill="#fff" stroke="#ff70ff" stroke-width="0.6"/>
<path d="M361.8,367.0 L363.8,370.4 L359.8,370.4 Z" fill="#fff" stroke="#ff70ff" stroke-width="0.6"/>
<path d="M364.4,367.0 L366.4,370.4 L362.4,370.4 Z" fill="#fff" stroke="#ff70ff" stroke-width="0.6"/>
<path d="M367.0,367.0 L369.0,370.4 L365.0,370.4 Z" fill="#fff" stroke="#ff70ff" stroke-width="0.6"/>
<path d="M369.6,367.0 L371.6,370.4 L367.6,370.4 Z" fill="#fff" stroke="#ff70ff" stroke-width="0.6"/>
<path d="M372.2,367.0 L374.2,370.4 L370.2,370.4 Z" fill="#fff" stroke="#ff70ff" stroke-width="0.6"/>
<path d="M374.8,366.9 L376.8,370.4 L372.8,370.4 Z" fill="#fff" stroke="#ff70ff" stroke-width="0.6"/>
<path d="M377.4,366.9 L379.4,370.4 L375.4,370.4 Z" fill="#fff" stroke="#ff70ff" stroke-width="0.6"/>
<path d="M380.0,366.9 L382.0,370.4 L378.0,370.4 Z" fill="#fff" stroke="#ff70ff" stroke-width="0.6"/>
<path d="M382.6,366.9 L384.6,370.4 L380.6,370.4 Z" fill="#fff" stroke="#ff70ff" stroke-width="0.6"/>
<path d="M385.2,366.9 L387.2,370.4 L383.2,370.4 Z" fill="#fff" stroke="#ff70ff" stroke-width="0.6"/>
<path d="M387.8,366.9 L389.8,370.4 L385.8,370.4 Z" fill="#fff" stroke="#ff70ff" stroke-width="0.6"/>
<path d="M390.4,366.9 L392.4,370.4 L388.4,370.4 Z" fill="#fff" stroke="#ff70ff" stroke-width="0.6"/>
<path d="M393.0,366.9 L395.0,370.4 L391.0,370.4 Z" fill="#fff" stroke="#ff70ff" stroke-width="0.6"/>
<path d="M395.6,366.9 L397.6,370.4 L393.6,370.4 Z" fill="#fff" stroke="#ff70ff" stroke-width="0.6"/>
<path d="M398.2,366.9 L400.2,370.4 L396.2,370.4 Z" fill="#fff" stroke="#ff70ff" stroke-width="0.6"/>
<path d="M400.8,366.9 L402.8,370.4 L398.8,370.4 Z" fill="#fff" stroke="#ff70ff" stroke-width="0.6"/>
<path d="M403.4,366.9 L405.4,370.4 L401.4,370.4 Z" fill="#fff" stroke="#ff70ff" stroke-width="0.6"/>
<path d="M406.0,366.8 L408.0,370.3 L404.0,370.3 Z" fill="#fff" stroke="#ff70ff" stroke-width="0.6"/>
<path d="M408.6,366.7 L410.6,370.1 L406.6,370.1 Z" fill="#fff" stroke="#ff70ff" stroke-width="0.6"/>
<path d="M411.2,366.5 L413.2,370.0 L409.2,370.0 Z" fill="#fff" stroke="#ff70ff" stroke-width="0.6"/>
<path d="M413.8,366.4 L415.8,369.8 L411.8,369.8 Z" fill="#fff" stroke="#ff70ff" stroke-width="0.6"/>
<path d="M416.4,366.2 L418.4,369.7 L414.4,369.7 Z" fill="#fff" stroke="#ff70ff" stroke-width="0.6"/>
<path d="M420.5,365.2 L422.7,369.0 L418.3,369.0 Z" fill="#fff" stroke="#ff10ff" stroke-width="0.7"/>
<path d="M423.4,364.3 L425.6,368.1 L421.2,368.1 Z" fill="#fff" stroke="#ff10ff" stroke-width="0.7"/>
<path d="M427.1,361.9 L429.3,365.7 L424.9,365.7 Z" fill="#fff" stroke="#ff10ff" stroke-width="0.7"/>
<path d="M429.9,358.2 L432.1,362.0 L427.7,362.0 Z" fill="#fff" stroke="#ff10ff" stroke-width="0.7"/>
<path d="M432.7,353.6 L434.9,357.4 L430.5,357.4 Z" fill="#fff" stroke="#ff10ff" stroke-width="0.7"/>
<path d="M434.5,348.0 L436.7,351.8 L432.3,351.8 Z" fill="#fff" stroke="#ff10ff" stroke-width="0.7"/>
<path d="M436.4,341.6 L438.6,345.4 L434.2,345.4 Z" fill="#fff" stroke="#ff10ff" stroke-width="0.7"/>
<path d="M438.0,335.7 L440.2,339.5 L435.8,339.5 Z" fill="#fff" stroke="#ff10ff" stroke-width="0.7"/>
<path d="M439.1,329.5 L441.3,333.3 L436.9,333.3 Z" fill="#fff" stroke="#ff10ff" stroke-width="0.7"/>
<path d="M440.7,317.2 L442.9,321.0 L438.5,321.0 Z" fill="#fff" stroke="#ff10ff" stroke-width="0.7"/>
<path d="M442.5,298.4 L444.7,302.2 L440.3,302.2 Z" fill="#fff" stroke="#ff10ff" stroke-width="0.7"/>
<path d="M443.9,275.0 L446.1,278.8 L441.7,278.8 Z" fill="#fff" stroke="#ff10ff" stroke-width="0.7"/>
<path d="M446.0,245.9 L448.2,249.7 L443.8,249.7 Z" fill="#fff" stroke="#ff10ff" stroke-width="0.7"/>
<path d="M448.2,212.4 L450.4,216.2 L446.0,216.2 Z" fill="#fff" stroke="#ff10ff" stroke-width="0.7"/>
<path d="M370,370.6 H418" stroke="#6aa8a8" stroke-width="1.0"/>
<path d="M405.0,370.8 L425.0,370.0 L436.0,368.0 L442.0,363.0 L447.0,355.0 L450.5,347.5 L453.5,339.0 L456.5,329.0 L459.0,318.0 L461.5,306.0 L464.0,294.0 L468.3,279.7 L470.7,268.7 L475.4,251.4" fill="none" stroke="#888" stroke-width="0.5" />
<path d="M405.0,370.8 L425.0,370.0 L436.0,367.5 L442.0,362.0 L447.0,353.5 L451.0,345.5 L454.0,337.0 L457.0,327.0 L459.0,318.0 L461.0,307.0 L462.8,295.4 L465.2,282.8 L470.7,264.7" fill="none" stroke="#ff5555" stroke-width="0.5" />
<path d="M405.0,370.8 L425.0,370.0 L436.0,367.5 L442.0,362.0 L446.5,354.0 L450.0,347.0 L453.0,338.0 L455.5,330.0 L458.0,320.0 L460.0,309.0 L461.2,297.8 L463.6,286.8 L467.0,276.5 L469.9,260.8" fill="none" stroke="#7777ff" stroke-width="0.5" />
<path d="M405.0,370.8 L415.0,370.5 L422.5,369.7 L430.0,368.0 L435.5,366.0 L439.0,362.5 L442.8,357.7 L445.6,352.5 L447.3,347.5 L450.0,342.7 L451.8,336.1 L453.6,328.4 L456.3,320.4 L457.2,313.2 L459.5,305.2 L461.6,293.6 L463.3,285.2 L465.2,271.8" fill="none" stroke="#3a9a9a" stroke-width="0.5" />
<path d="M470.7,264.7 L476.5,216.0" fill="none" stroke="#ff5555" stroke-width="0.5" />
<path d="M469.9,260.8 L472.2,234.0" fill="none" stroke="#7777ff" stroke-width="0.5" />
<path d="M465.2,271.8 L468.3,247.5" fill="none" stroke="#3a9a9a" stroke-width="0.5" />
<rect x="448.8" y="345.8" width="3.4" height="3.4" fill="#fff" stroke="#666" stroke-width="0.6"/>
<rect x="451.8" y="337.3" width="3.4" height="3.4" fill="#fff" stroke="#666" stroke-width="0.6"/>
<rect x="454.8" y="327.3" width="3.4" height="3.4" fill="#fff" stroke="#666" stroke-width="0.6"/>
<rect x="457.3" y="316.3" width="3.4" height="3.4" fill="#fff" stroke="#666" stroke-width="0.6"/>
<rect x="459.8" y="304.3" width="3.4" height="3.4" fill="#fff" stroke="#666" stroke-width="0.6"/>
<rect x="462.3" y="292.3" width="3.4" height="3.4" fill="#fff" stroke="#666" stroke-width="0.6"/>
<rect x="466.6" y="278.0" width="3.4" height="3.4" fill="#fff" stroke="#666" stroke-width="0.6"/>
<rect x="469.0" y="267.0" width="3.4" height="3.4" fill="#fff" stroke="#666" stroke-width="0.6"/>
<rect x="473.7" y="249.7" width="3.4" height="3.4" fill="#fff" stroke="#666" stroke-width="0.6"/>
<rect x="449.5" y="344.0" width="3.0" height="3.0" fill="#ff1010" stroke="#ff1010" stroke-width="0.6"/>
<rect x="452.5" y="335.5" width="3.0" height="3.0" fill="#ff1010" stroke="#ff1010" stroke-width="0.6"/>
<rect x="455.5" y="325.5" width="3.0" height="3.0" fill="#ff1010" stroke="#ff1010" stroke-width="0.6"/>
<rect x="457.5" y="316.5" width="3.0" height="3.0" fill="#ff1010" stroke="#ff1010" stroke-width="0.6"/>
<rect x="459.5" y="305.5" width="3.0" height="3.0" fill="#ff1010" stroke="#ff1010" stroke-width="0.6"/>
<rect x="461.3" y="293.9" width="3.0" height="3.0" fill="#ff1010" stroke="#ff1010" stroke-width="0.6"/>
<rect x="463.7" y="281.3" width="3.0" height="3.0" fill="#ff1010" stroke="#ff1010" stroke-width="0.6"/>
<rect x="469.2" y="263.2" width="3.0" height="3.0" fill="#ff1010" stroke="#ff1010" stroke-width="0.6"/>
<circle cx="450.0" cy="347.0" r="1.9" fill="#fff" stroke="#3030ff" stroke-width="0.7"/>
<circle cx="453.0" cy="338.0" r="1.9" fill="#fff" stroke="#3030ff" stroke-width="0.7"/>
<circle cx="455.5" cy="330.0" r="1.9" fill="#fff" stroke="#3030ff" stroke-width="0.7"/>
<circle cx="458.0" cy="320.0" r="1.9" fill="#fff" stroke="#3030ff" stroke-width="0.7"/>
<circle cx="460.0" cy="309.0" r="1.9" fill="#fff" stroke="#3030ff" stroke-width="0.7"/>
<circle cx="461.2" cy="297.8" r="1.9" fill="#fff" stroke="#3030ff" stroke-width="0.7"/>
<circle cx="463.6" cy="286.8" r="1.9" fill="#fff" stroke="#3030ff" stroke-width="0.7"/>
<circle cx="467.0" cy="276.5" r="1.9" fill="#fff" stroke="#3030ff" stroke-width="0.7"/>
<circle cx="469.9" cy="260.8" r="1.9" fill="#fff" stroke="#3030ff" stroke-width="0.7"/>
<circle cx="420.0" cy="370.2" r="1.9" fill="#0a8585" stroke="#0a8585" stroke-width="0.3"/>
<circle cx="422.1" cy="369.7" r="1.9" fill="#0a8585" stroke="#0a8585" stroke-width="0.3"/>
<circle cx="424.3" cy="369.3" r="1.9" fill="#0a8585" stroke="#0a8585" stroke-width="0.3"/>
<circle cx="426.4" cy="368.8" r="1.9" fill="#0a8585" stroke="#0a8585" stroke-width="0.3"/>
<circle cx="428.6" cy="368.3" r="1.9" fill="#0a8585" stroke="#0a8585" stroke-width="0.3"/>
<circle cx="430.7" cy="367.7" r="1.9" fill="#0a8585" stroke="#0a8585" stroke-width="0.3"/>
<circle cx="432.8" cy="367.0" r="1.9" fill="#0a8585" stroke="#0a8585" stroke-width="0.3"/>
<circle cx="434.9" cy="366.2" r="1.9" fill="#0a8585" stroke="#0a8585" stroke-width="0.3"/>
<circle cx="436.6" cy="364.9" r="1.9" fill="#0a8585" stroke="#0a8585" stroke-width="0.3"/>
<circle cx="438.1" cy="363.4" r="1.9" fill="#0a8585" stroke="#0a8585" stroke-width="0.3"/>
<circle cx="439.6" cy="361.7" r="1.9" fill="#0a8585" stroke="#0a8585" stroke-width="0.3"/>
<circle cx="441.0" cy="360.0" r="1.9" fill="#0a8585" stroke="#0a8585" stroke-width="0.3"/>
<circle cx="442.3" cy="358.3" r="1.9" fill="#0a8585" stroke="#0a8585" stroke-width="0.3"/>
<circle cx="445.6" cy="352.5" r="2.2" fill="#0a8585" stroke="#0a8585" stroke-width="0.3"/>
<circle cx="447.3" cy="347.5" r="2.2" fill="#0a8585" stroke="#0a8585" stroke-width="0.3"/>
<circle cx="450.0" cy="342.7" r="2.2" fill="#0a8585" stroke="#0a8585" stroke-width="0.3"/>
<circle cx="451.8" cy="336.1" r="2.2" fill="#0a8585" stroke="#0a8585" stroke-width="0.3"/>
<circle cx="453.6" cy="328.4" r="2.2" fill="#0a8585" stroke="#0a8585" stroke-width="0.3"/>
<circle cx="456.3" cy="320.4" r="2.2" fill="#0a8585" stroke="#0a8585" stroke-width="0.3"/>
<circle cx="457.2" cy="313.2" r="2.2" fill="#0a8585" stroke="#0a8585" stroke-width="0.3"/>
<circle cx="459.5" cy="305.2" r="2.2" fill="#0a8585" stroke="#0a8585" stroke-width="0.3"/>
<circle cx="461.6" cy="293.6" r="2.2" fill="#0a8585" stroke="#0a8585" stroke-width="0.3"/>
<circle cx="463.3" cy="285.2" r="2.2" fill="#0a8585" stroke="#0a8585" stroke-width="0.3"/>
<circle cx="465.2" cy="271.8" r="2.2" fill="#0a8585" stroke="#0a8585" stroke-width="0.3"/>
<rect x="474.8" y="214.8" width="3.4" height="3.4" fill="#ff1010" stroke="#ff1010" stroke-width="0.6"/>
<rect x="476.2" y="214.4" width="3.4" height="3.4" fill="#ff1010" stroke="#ff1010" stroke-width="0.6"/>
<rect x="477.6" y="214.0" width="3.4" height="3.4" fill="#ff1010" stroke="#ff1010" stroke-width="0.6"/>
<rect x="479.0" y="213.6" width="3.4" height="3.4" fill="#ff1010" stroke="#ff1010" stroke-width="0.6"/>
<rect x="480.4" y="213.2" width="3.4" height="3.4" fill="#ff1010" stroke="#ff1010" stroke-width="0.6"/>
<circle cx="473.0" cy="233.5" r="1.9" fill="#fff" stroke="#3030ff" stroke-width="0.7"/>
<circle cx="474.9" cy="233.0" r="1.9" fill="#fff" stroke="#3030ff" stroke-width="0.7"/>
<circle cx="476.8" cy="232.5" r="1.9" fill="#fff" stroke="#3030ff" stroke-width="0.7"/>
<circle cx="478.7" cy="232.0" r="1.9" fill="#fff" stroke="#3030ff" stroke-width="0.7"/>
<circle cx="480.6" cy="231.5" r="1.9" fill="#fff" stroke="#3030ff" stroke-width="0.7"/>
<circle cx="482.5" cy="231.0" r="1.9" fill="#fff" stroke="#3030ff" stroke-width="0.7"/>
<circle cx="468.8" cy="247.3" r="2.1" fill="#0a8585" stroke="#0a8585" stroke-width="0.3"/>
<circle cx="470.3" cy="247.0" r="2.1" fill="#0a8585" stroke="#0a8585" stroke-width="0.3"/>
<circle cx="471.8" cy="246.7" r="2.1" fill="#0a8585" stroke="#0a8585" stroke-width="0.3"/>
<circle cx="473.3" cy="246.4" r="2.1" fill="#0a8585" stroke="#0a8585" stroke-width="0.3"/>
<circle cx="474.8" cy="246.1" r="2.1" fill="#0a8585" stroke="#0a8585" stroke-width="0.3"/>
<circle cx="476.3" cy="245.8" r="2.1" fill="#0a8585" stroke="#0a8585" stroke-width="0.3"/>
<path d="M437.5,371 L448.5,204.5" stroke="#111" stroke-width="0.8" stroke-dasharray="1,1.1"/>
<path d="M444.3,371 L455,302" stroke="#111" stroke-width="0.8" stroke-dasharray="1,1.1"/>
<path d="M437.5,370.5 v-6" stroke="#000" stroke-width="0.7"/>
<path d="M437.5,371.5 l-1.4,-4.2 l1.4,0.9 l1.4,-0.9 Z" fill="#000"/>
<path d="M444.3,370.5 v-6" stroke="#000" stroke-width="0.7"/>
<path d="M444.3,371.5 l-1.4,-4.2 l1.4,0.9 l1.4,-0.9 Z" fill="#000"/>
<text x="433.9" y="380.2" font-size="5.50" text-anchor="middle" font-weight="bold" fill="#111" stroke="#111" stroke-width="0.13"  transform="rotate(0.1 433.9 380.2)">3.29</text>
<text x="448.2" y="380.2" font-size="5.50" text-anchor="middle" font-weight="bold" fill="#111" stroke="#111" stroke-width="0.13"  transform="rotate(0.1 448.2 380.2)">3.31</text>
<path d="M290,211.2 H304.7" stroke="#ff66ff" stroke-width="0.8"/>
<path d="M297.5,209.1 L299.7,212.9 L295.3,212.9 Z" fill="#fff" stroke="#ff10ff" stroke-width="0.7"/>
<text x="306.0" y="213.8" font-size="7.00" text-anchor="start" font-weight="normal" fill="#111" stroke="#111" stroke-width="0.13"  transform="rotate(0.1 306.0 213.8)">ZnO</text>
<text x="286.8" y="222.3" font-size="7.20" text-anchor="start" font-weight="normal" fill="#111" stroke="#111" stroke-width="0.13"  transform="rotate(0.1 286.8 222.3)">Zn<tspan font-size="5.2" dy="1.5">0.99</tspan><tspan dy="-1.5">Ga</tspan><tspan font-size="5.2" dy="1.5">0.01</tspan><tspan dy="-1.5">O:Zn</tspan><tspan font-size="5.0" dy="-3.0">2+</tspan><tspan font-size="5.0" dx="-5.6" dy="5.0">y</tspan></text>
<text x="290.0" y="233.1" font-size="6.80" text-anchor="start" font-weight="normal" fill="#111" stroke="#111" stroke-width="0.13"  transform="rotate(0.1 290.0 233.1)">y (at%) =</text>
<path d="M319.4,230.7 H334.0" stroke="#555" stroke-width="0.6" opacity="0.8"/>
<rect x="325.2" y="229.0" width="3.4" height="3.4" fill="#fff" stroke="#444" stroke-width="0.6"/>
<text x="336.4" y="233.1" font-size="7.00" text-anchor="start" font-weight="normal" fill="#111" stroke="#111" stroke-width="0.13"  transform="rotate(0.1 336.4 233.1)">0</text>
<path d="M343.4,230.7 H355.4" stroke="#ff1010" stroke-width="0.6" opacity="0.8"/>
<rect x="347.1" y="229.1" width="3.2" height="3.2" fill="#ff1010" stroke="#ff1010" stroke-width="0.6"/>
<text x="356.8" y="233.1" font-size="7.00" text-anchor="start" font-weight="normal" fill="#111" stroke="#111" stroke-width="0.13"  transform="rotate(0.1 356.8 233.1)">0.5</text>
<path d="M370.1,230.7 H383.4" stroke="#3030ff" stroke-width="0.6" opacity="0.8"/>
<circle cx="376.2" cy="230.7" r="1.9" fill="#fff" stroke="#3030ff" stroke-width="0.7"/>
<text x="385.6" y="233.1" font-size="7.00" text-anchor="start" font-weight="normal" fill="#111" stroke="#111" stroke-width="0.13"  transform="rotate(0.1 385.6 233.1)">1.0</text>
<path d="M397.0,230.7 H410.0" stroke="#0a8585" stroke-width="0.6" opacity="0.8"/>
<circle cx="403.3" cy="230.7" r="2.0" fill="#0a8585" stroke="#0a8585" stroke-width="0.7"/>
<text x="412.9" y="233.1" font-size="7.00" text-anchor="start" font-weight="normal" fill="#111" stroke="#111" stroke-width="0.13"  transform="rotate(0.1 412.9 233.1)">1.5</text>
<rect x="300.0" y="250.8" width="118.2" height="93.2" fill="#fff" stroke="#707070" stroke-width="0.9"/>
<path d="M324.7,344.0 v1.5 M356.0,344.0 v1.5 M387.3,344.0 v1.5 M418.6,344.0 v1.5 " stroke="#555" stroke-width="0.7"/>
<path d="M309.1,344.0 v1.0 M340.4,344.0 v1.0 M371.7,344.0 v1.0 M403.0,344.0 v1.0 " stroke="#555" stroke-width="0.6"/>
<path d="M300.0,326.2 h-1.5 M300.0,303.1 h-1.5 M300.0,280.0 h-1.5 M300.0,256.9 h-1.5 " stroke="#555" stroke-width="0.7"/>
<path d="M300.0,337.7 h-1.0 M300.0,314.7 h-1.0 M300.0,291.5 h-1.0 M300.0,268.4 h-1.0 " stroke="#555" stroke-width="0.6"/>
<text x="324.7" y="351.0" font-size="5.20" text-anchor="middle" font-weight="normal" fill="#333" stroke="#333" stroke-width="0.13"  transform="rotate(0.1 324.7 351.0)">3.28</text>
<text x="356.0" y="351.0" font-size="5.20" text-anchor="middle" font-weight="normal" fill="#333" stroke="#333" stroke-width="0.13"  transform="rotate(0.1 356.0 351.0)">3.30</text>
<text x="387.3" y="351.0" font-size="5.20" text-anchor="middle" font-weight="normal" fill="#333" stroke="#333" stroke-width="0.13"  transform="rotate(0.1 387.3 351.0)">3.32</text>
<text x="418.6" y="351.0" font-size="5.20" text-anchor="middle" font-weight="normal" fill="#333" stroke="#333" stroke-width="0.13"  transform="rotate(0.1 418.6 351.0)">3.34</text>
<text x="297.8" y="328.0" font-size="5.20" text-anchor="end" font-weight="normal" fill="#333" stroke="#333" stroke-width="0.13"  transform="rotate(0.1 297.8 328.0)">10.0</text>
<text x="297.8" y="304.9" font-size="5.20" text-anchor="end" font-weight="normal" fill="#333" stroke="#333" stroke-width="0.13"  transform="rotate(0.1 297.8 304.9)">10.2</text>
<text x="297.8" y="281.8" font-size="5.20" text-anchor="end" font-weight="normal" fill="#333" stroke="#333" stroke-width="0.13"  transform="rotate(0.1 297.8 281.8)">10.4</text>
<text x="297.8" y="258.7" font-size="5.20" text-anchor="end" font-weight="normal" fill="#333" stroke="#333" stroke-width="0.13"  transform="rotate(0.1 297.8 258.7)">10.6</text>
<text x="364.7" y="358.3" font-size="5.60" text-anchor="middle" font-weight="normal" fill="#333" stroke="#333" stroke-width="0.13"  transform="rotate(0.1 364.7 358.3)">h&#965; (eV)</text>
<text transform="translate(284.3,304.7) rotate(-89.9)" font-size="5.2" text-anchor="middle" fill="#333">ln (&#945;)</text>
<text x="304.0" y="260.7" font-size="7.30" text-anchor="start" font-weight="normal" fill="#111" stroke="#111" stroke-width="0.13"  transform="rotate(0.1 304.0 260.7)">&#916;E<tspan font-size="4.4" dy="1.5">u</tspan><tspan dy="-1.5"> ~ 94  meV</tspan></text>
<path d="M301,343.2 L418,254.8" stroke="#444" stroke-width="0.7"/>
<circle cx="310.8" cy="334.9" r="1.8" fill="none" stroke="#555" stroke-width="0.6"/>
<circle cx="324.7" cy="326.2" r="1.8" fill="none" stroke="#555" stroke-width="0.6"/>
<circle cx="338.5" cy="317.0" r="1.8" fill="none" stroke="#555" stroke-width="0.6"/>
<circle cx="351.8" cy="306.8" r="1.8" fill="none" stroke="#555" stroke-width="0.6"/>
<circle cx="365.6" cy="296.0" r="1.8" fill="none" stroke="#555" stroke-width="0.6"/>
<circle cx="379.5" cy="284.7" r="1.8" fill="none" stroke="#555" stroke-width="0.6"/>
<circle cx="394.0" cy="273.0" r="1.8" fill="none" stroke="#555" stroke-width="0.6"/>
<circle cx="407.8" cy="262.2" r="1.8" fill="none" stroke="#555" stroke-width="0.6"/>
<rect x="169.2" y="407.9" width="210.3" height="168.5" fill="none" stroke="#555" stroke-width="1.3"/>
<path d="M178.3,576.4 v3.0 M207.0,576.4 v3.0 M235.8,576.4 v3.0 M264.5,576.4 v3.0 M293.3,576.4 v3.0 M322.0,576.4 v3.0 M350.7,576.4 v3.0 M379.5,576.4 v3.0 " stroke="#444" stroke-width="1.0"/>
<path d="M192.7,576.4 v1.8 M221.4,576.4 v1.8 M250.2,576.4 v1.8 M278.9,576.4 v1.8 M307.6,576.4 v1.8 M336.4,576.4 v1.8 M365.1,576.4 v1.8 " stroke="#444" stroke-width="1.0"/>
<path d="M169.2,576.4 h-3.0 M169.2,563.4 h-3.0 M169.2,550.5 h-3.0 M169.2,537.5 h-3.0 M169.2,524.5 h-3.0 M169.2,511.5 h-3.0 M169.2,498.6 h-3.0 M169.2,485.6 h-3.0 M169.2,472.6 h-3.0 M169.2,459.7 h-3.0 M169.2,446.7 h-3.0 M169.2,433.7 h-3.0 M169.2,420.8 h-3.0 M169.2,407.8 h-3.0 " stroke="#444" stroke-width="1.0"/>
<path d="M169.2,569.9 h-1.8 M169.2,556.9 h-1.8 M169.2,544.0 h-1.8 M169.2,531.0 h-1.8 M169.2,518.0 h-1.8 M169.2,505.1 h-1.8 M169.2,492.1 h-1.8 M169.2,479.1 h-1.8 M169.2,466.2 h-1.8 M169.2,453.2 h-1.8 M169.2,440.2 h-1.8 M169.2,427.2 h-1.8 M169.2,414.3 h-1.8 " stroke="#444" stroke-width="1.0"/>
<text x="163.6" y="579.0" font-size="7.40" text-anchor="end" font-weight="normal" fill="#111" stroke="#111" stroke-width="0.13"  transform="translate(163.60 579.00) rotate(0.1) scale(0.870 1) translate(-163.60 -579.00)">3.18</text>
<text x="163.6" y="566.0" font-size="7.40" text-anchor="end" font-weight="normal" fill="#111" stroke="#111" stroke-width="0.13"  transform="translate(163.60 566.03) rotate(0.1) scale(0.870 1) translate(-163.60 -566.03)">3.20</text>
<text x="163.6" y="553.1" font-size="7.40" text-anchor="end" font-weight="normal" fill="#111" stroke="#111" stroke-width="0.13"  transform="translate(163.60 553.06) rotate(0.1) scale(0.870 1) translate(-163.60 -553.06)">3.22</text>
<text x="163.6" y="540.1" font-size="7.40" text-anchor="end" font-weight="normal" fill="#111" stroke="#111" stroke-width="0.13"  transform="translate(163.60 540.09) rotate(0.1) scale(0.870 1) translate(-163.60 -540.09)">3.24</text>
<text x="163.6" y="527.1" font-size="7.40" text-anchor="end" font-weight="normal" fill="#111" stroke="#111" stroke-width="0.13"  transform="translate(163.60 527.12) rotate(0.1) scale(0.870 1) translate(-163.60 -527.12)">3.26</text>
<text x="163.6" y="514.1" font-size="7.40" text-anchor="end" font-weight="normal" fill="#111" stroke="#111" stroke-width="0.13"  transform="translate(163.60 514.15) rotate(0.1) scale(0.870 1) translate(-163.60 -514.15)">3.28</text>
<text x="163.6" y="501.2" font-size="7.40" text-anchor="end" font-weight="normal" fill="#111" stroke="#111" stroke-width="0.13"  transform="translate(163.60 501.18) rotate(0.1) scale(0.870 1) translate(-163.60 -501.18)">3.30</text>
<text x="163.6" y="488.2" font-size="7.40" text-anchor="end" font-weight="normal" fill="#111" stroke="#111" stroke-width="0.13"  transform="translate(163.60 488.21) rotate(0.1) scale(0.870 1) translate(-163.60 -488.21)">3.32</text>
<text x="163.6" y="475.2" font-size="7.40" text-anchor="end" font-weight="normal" fill="#111" stroke="#111" stroke-width="0.13"  transform="translate(163.60 475.24) rotate(0.1) scale(0.870 1) translate(-163.60 -475.24)">3.34</text>
<text x="163.6" y="462.3" font-size="7.40" text-anchor="end" font-weight="normal" fill="#111" stroke="#111" stroke-width="0.13"  transform="translate(163.60 462.27) rotate(0.1) scale(0.870 1) translate(-163.60 -462.27)">3.36</text>
<text x="163.6" y="449.3" font-size="7.40" text-anchor="end" font-weight="normal" fill="#111" stroke="#111" stroke-width="0.13"  transform="translate(163.60 449.30) rotate(0.1) scale(0.870 1) translate(-163.60 -449.30)">3.38</text>
<text x="163.6" y="436.3" font-size="7.40" text-anchor="end" font-weight="normal" fill="#111" stroke="#111" stroke-width="0.13"  transform="translate(163.60 436.33) rotate(0.1) scale(0.870 1) translate(-163.60 -436.33)">3.40</text>
<text x="163.6" y="423.4" font-size="7.40" text-anchor="end" font-weight="normal" fill="#111" stroke="#111" stroke-width="0.13"  transform="translate(163.60 423.36) rotate(0.1) scale(0.870 1) translate(-163.60 -423.36)">3.42</text>
<text x="163.6" y="410.4" font-size="7.40" text-anchor="end" font-weight="normal" fill="#111" stroke="#111" stroke-width="0.13"  transform="translate(163.60 410.39) rotate(0.1) scale(0.870 1) translate(-163.60 -410.39)">3.44</text>
<text x="177.3" y="588.2" font-size="6.30" text-anchor="middle" font-weight="normal" fill="#111" stroke="#111" stroke-width="0.13"  transform="rotate(0.1 177.3 588.2)">5.0x10<tspan font-size="3.9" dy="-3.0">19</tspan></text>
<text x="206.0" y="588.2" font-size="6.30" text-anchor="middle" font-weight="normal" fill="#111" stroke="#111" stroke-width="0.13"  transform="rotate(0.1 206.0 588.2)">1.0x10<tspan font-size="3.9" dy="-3.0">19</tspan></text>
<text x="234.8" y="588.2" font-size="6.30" text-anchor="middle" font-weight="normal" fill="#111" stroke="#111" stroke-width="0.13"  transform="rotate(0.1 234.8 588.2)">1.5x10<tspan font-size="3.9" dy="-3.0">19</tspan></text>
<text x="263.5" y="588.2" font-size="6.30" text-anchor="middle" font-weight="normal" fill="#111" stroke="#111" stroke-width="0.13"  transform="rotate(0.1 263.5 588.2)">2.0x10<tspan font-size="3.9" dy="-3.0">19</tspan></text>
<text x="292.3" y="588.2" font-size="6.30" text-anchor="middle" font-weight="normal" fill="#111" stroke="#111" stroke-width="0.13"  transform="rotate(0.1 292.3 588.2)">2.5x10<tspan font-size="3.9" dy="-3.0">19</tspan></text>
<text x="321.0" y="588.2" font-size="6.30" text-anchor="middle" font-weight="normal" fill="#111" stroke="#111" stroke-width="0.13"  transform="rotate(0.1 321.0 588.2)">3.0x10<tspan font-size="3.9" dy="-3.0">19</tspan></text>
<text x="349.7" y="588.2" font-size="6.30" text-anchor="middle" font-weight="normal" fill="#111" stroke="#111" stroke-width="0.13"  transform="rotate(0.1 349.7 588.2)">3.5x10<tspan font-size="3.9" dy="-3.0">19</tspan></text>
<text x="378.5" y="588.2" font-size="6.30" text-anchor="middle" font-weight="normal" fill="#111" stroke="#111" stroke-width="0.13"  transform="rotate(0.1 378.5 588.2)">4.0x10<tspan font-size="3.9" dy="-3.0">19</tspan></text>
<text x="274.9" y="602.8" font-size="8.00" text-anchor="middle" font-weight="normal" fill="#111" stroke="#111" stroke-width="0.08"  transform="rotate(0.1 274.9 602.8)">n (cm<tspan font-size="5" dy="-3">-3</tspan><tspan dy="3">)</tspan></text>
<text transform="translate(146.4,498.2) rotate(-89.9)" font-size="8.3" text-anchor="middle" fill="#111" stroke="#111" stroke-width="0.08">E<tspan font-size="5.8" dy="2.2">g</tspan><tspan dy="-2.2"> (eV)</tspan></text>
<text x="173.6" y="418.2" font-size="6.80" text-anchor="start" font-weight="bold" fill="#111" stroke="#111" stroke-width="0.13"  transform="rotate(0.1 173.6 418.2)">e)</text>
<text x="179.5" y="430.9" font-size="6.70" text-anchor="start" font-weight="bold" fill="#111" stroke="#111" stroke-width="0.13"  transform="rotate(0.1 179.5 430.9)">15 min</text>
<text x="203.2" y="430.9" font-size="6.70" text-anchor="start" font-weight="bold" fill="#111" stroke="#111" stroke-width="0.13"  transform="rotate(0.1 203.2 430.9)">60 min</text>
<circle cx="186.7" cy="436.5" r="2.0" fill="#000" stroke="#000" stroke-width="0.7"/>
<circle cx="208.3" cy="436.5" r="2.0" fill="#fff" stroke="#222" stroke-width="0.7"/>
<path d="M169.5,487.0 C172.9,484.8 183.2,477.3 190.0,473.5 C196.8,469.7 199.3,468.3 210.2,464.0 C221.1,459.7 240.2,452.6 255.3,447.5 C270.4,442.4 285.4,437.7 300.5,433.5 C315.6,429.3 332.5,425.3 345.7,422.5 C358.9,419.7 373.9,417.8 379.5,416.8" fill="none" stroke="#ff7070" stroke-width="0.6" stroke-linejoin="round" stroke-linecap="round" stroke-dasharray="0.8,1.3"/>
<path d="M169.5,506.6 C172.9,508.2 183.2,513.2 190.0,516.0 C196.8,518.8 199.3,519.4 210.2,523.3 C221.1,527.1 240.2,534.4 255.3,539.1 C270.4,543.9 285.4,547.9 300.5,551.8 C315.6,555.6 332.5,559.4 345.7,562.2 C358.9,565.0 373.9,567.7 379.5,568.8" fill="none" stroke="#7070ff" stroke-width="0.6" stroke-linejoin="round" stroke-linecap="round" stroke-dasharray="0.8,1.3"/>
<path d="M169.2,489.0 C172.7,489.4 183.2,490.9 190.0,491.5 C196.8,492.1 201.7,492.5 210.0,492.6 C218.3,492.7 230.0,492.6 240.0,492.3 C250.0,492.0 260.0,491.4 270.0,490.8 C280.0,490.2 288.3,489.7 300.0,488.8 C311.7,487.9 326.8,486.7 340.0,485.5 C353.2,484.3 372.9,482.4 379.5,481.8" fill="none" stroke="#ff80ff" stroke-width="1.2" stroke-linejoin="round" stroke-linecap="round" />
<path d="M169.2,505.3 H379.5" stroke="#222" stroke-width="0.8" stroke-dasharray="1,1.6"/>
<circle cx="180.5" cy="492.2" r="2.0" fill="#000" stroke="#000" stroke-width="0.7"/>
<circle cx="185.4" cy="492.2" r="2.0" fill="#000" stroke="#000" stroke-width="0.7"/>
<circle cx="194.1" cy="492.2" r="2.0" fill="#000" stroke="#000" stroke-width="0.7"/>
<circle cx="279.0" cy="492.2" r="2.0" fill="#000" stroke="#000" stroke-width="0.7"/>
<circle cx="210.1" cy="492.2" r="1.9" fill="#fff" stroke="#333" stroke-width="0.7"/>
<circle cx="272.9" cy="492.2" r="1.9" fill="#fff" stroke="#333" stroke-width="0.7"/>
<circle cx="275.9" cy="492.2" r="1.9" fill="#fff" stroke="#333" stroke-width="0.7"/>
<circle cx="291.7" cy="492.2" r="1.9" fill="#fff" stroke="#333" stroke-width="0.7"/>
<circle cx="279.0" cy="492.2" r="2.0" fill="#000" stroke="#000" stroke-width="0.7"/>
<text x="336.9" y="416.9" font-size="6.60" text-anchor="start" font-weight="bold" fill="#111" stroke="#111" stroke-width="0.13"  transform="rotate(0.1 336.9 416.9)">E<tspan font-size="3.4" dy="1.6">go</tspan><tspan dy="-1.6">+ &#916;E</tspan><tspan font-size="3.4" dy="1.6">BM</tspan></text>
<text x="331.0" y="478.2" font-size="6.60" text-anchor="start" font-weight="bold" fill="#111" stroke="#111" stroke-width="0.13"  transform="rotate(0.1 331.0 478.2)">E<tspan font-size="3.4" dy="1.6">go</tspan><tspan dy="-1.6">+ &#916;E</tspan><tspan font-size="3.4" dy="1.6">BM</tspan><tspan dy="-1.6">- &#916;E</tspan><tspan font-size="3.4" dy="1.6">BGN</tspan></text>
<text x="364.5" y="514.3" font-size="6.60" text-anchor="start" font-weight="bold" fill="#111" stroke="#111" stroke-width="0.13"  transform="rotate(0.1 364.5 514.3)">E<tspan font-size="3.4" dy="1.6">go</tspan></text>
<text x="333.3" y="572.6" font-size="6.60" text-anchor="start" font-weight="bold" fill="#111" stroke="#111" stroke-width="0.13"  transform="rotate(0.1 333.3 572.6)">E<tspan font-size="3.4" dy="1.6">go</tspan><tspan dy="-1.6">- &#916;E</tspan><tspan font-size="3.4" dy="1.6">BGN</tspan></text>
</svg></body></html>
